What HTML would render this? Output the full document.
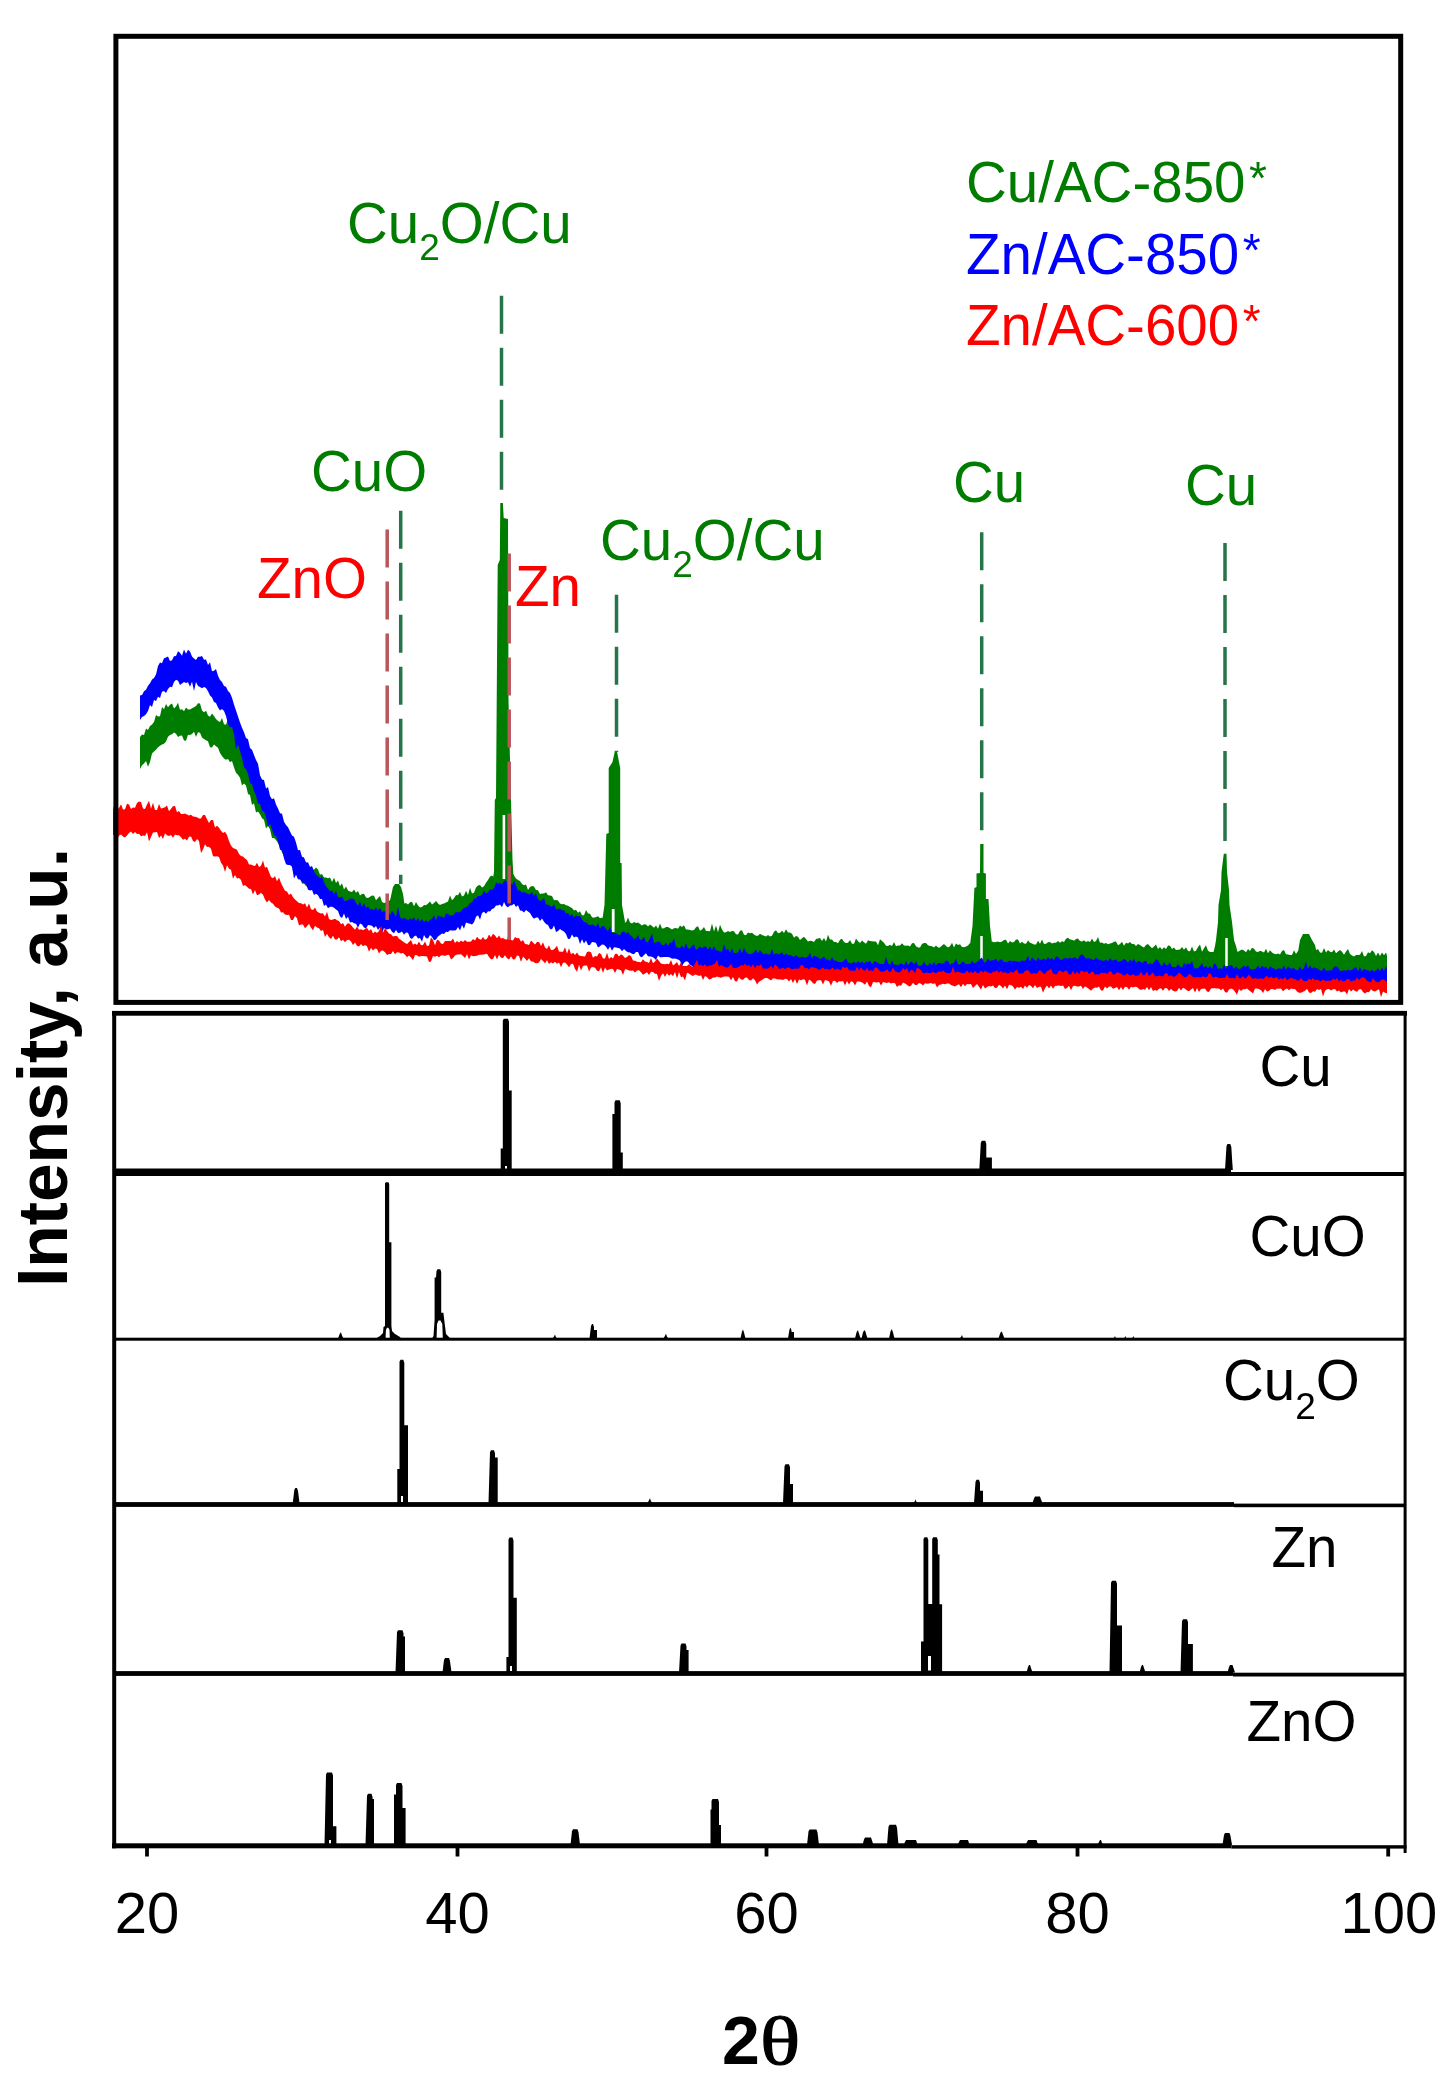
<!DOCTYPE html><html><head><meta charset="utf-8"><style>html,body{margin:0;padding:0;background:#fff;}svg{display:block;filter:blur(0.45px);}</style></head><body>
<svg width="1450" height="2091" viewBox="0 0 1450 2091">
<rect width="1450" height="2091" fill="#fff"/>
<polygon fill="#007c00" points="140.0,737.1 142.0,734.4 144.0,734.9 146.0,728.5 148.0,729.9 150.0,725.9 152.0,724.6 154.0,722.1 156.0,715.0 158.0,716.6 160.0,716.3 162.0,707.0 164.0,709.3 166.0,704.1 168.0,707.2 170.0,704.8 172.0,703.6 174.0,708.4 176.0,706.5 178.0,702.8 180.0,709.8 182.0,709.3 184.0,711.3 186.0,707.5 188.0,709.4 190.0,709.6 192.0,708.3 194.0,707.3 196.0,705.9 198.0,703.2 200.0,703.6 202.0,710.4 204.0,712.2 206.0,710.7 208.0,715.5 210.0,716.8 212.0,713.5 214.0,716.0 216.0,719.1 218.0,720.9 220.0,721.9 222.0,718.0 224.0,724.3 226.0,724.8 228.0,719.1 230.0,719.3 232.0,726.5 234.0,729.5 236.0,730.3 238.0,734.5 240.0,732.5 242.0,734.2 244.0,740.9 246.0,745.5 248.0,753.9 250.0,758.2 252.0,761.6 254.0,765.1 256.0,770.5 258.0,775.9 260.0,785.5 262.0,784.2 264.0,789.6 266.0,795.5 268.0,801.5 270.0,803.0 272.0,804.5 274.0,813.4 276.0,811.7 278.0,821.4 280.0,819.1 282.0,822.5 284.0,832.4 286.0,836.3 288.0,837.0 290.0,843.0 292.0,841.7 294.0,848.7 296.0,854.6 298.0,855.5 300.0,856.0 302.0,863.4 304.0,858.8 306.0,866.0 308.0,866.6 310.0,867.6 312.0,869.4 314.0,869.8 316.0,867.4 318.0,869.5 320.0,874.7 322.0,874.1 324.0,877.5 326.0,877.6 328.0,878.2 330.0,877.4 332.0,882.0 334.0,877.7 336.0,882.9 338.0,880.5 340.0,886.2 342.0,883.2 344.0,889.4 346.0,886.5 348.0,890.5 350.0,891.6 352.0,892.0 354.0,889.6 356.0,892.8 358.0,890.9 360.0,895.5 362.0,894.1 364.0,893.8 366.0,897.5 368.0,897.9 370.0,896.7 372.0,895.5 374.0,895.7 376.0,900.3 378.0,897.9 380.0,896.1 382.0,901.9 384.0,903.0 386.0,902.6 388.0,900.7 390.0,900.6 392.0,895.1 394.0,894.6 396.0,892.5 398.0,894.6 400.0,895.9 402.0,899.2 404.0,903.7 406.0,902.9 408.0,904.6 410.0,902.3 412.0,901.7 414.0,906.3 416.0,902.1 418.0,905.5 420.0,907.5 422.0,907.1 424.0,905.1 426.0,905.3 428.0,903.6 430.0,901.5 432.0,904.6 434.0,903.0 436.0,900.9 438.0,903.6 440.0,904.9 442.0,903.9 444.0,903.4 446.0,902.5 448.0,901.6 450.0,895.5 452.0,900.3 454.0,898.3 456.0,895.0 458.0,895.3 460.0,891.8 462.0,896.5 464.0,895.5 466.0,890.7 468.0,895.0 470.0,887.7 472.0,893.5 474.0,892.7 476.0,887.5 478.0,885.4 480.0,885.0 482.0,887.4 484.0,886.3 486.0,882.7 488.0,880.0 490.0,876.4 492.0,875.5 494.0,877.6 496.0,876.4 498.0,877.1 500.0,873.6 502.0,872.7 504.0,876.1 506.0,872.5 508.0,873.4 510.0,871.5 512.0,871.9 514.0,875.5 516.0,878.6 518.0,880.1 520.0,881.1 522.0,884.0 524.0,885.2 526.0,884.6 528.0,889.9 530.0,887.0 532.0,886.1 534.0,886.4 536.0,890.1 538.0,890.3 540.0,894.0 542.0,893.5 544.0,893.5 546.0,892.3 548.0,895.3 550.0,895.4 552.0,896.1 554.0,900.2 556.0,900.1 558.0,900.5 560.0,903.5 562.0,904.3 564.0,904.1 566.0,905.2 568.0,905.7 570.0,907.1 572.0,907.9 574.0,910.6 576.0,909.8 578.0,912.7 580.0,911.3 582.0,915.2 584.0,915.2 586.0,910.0 588.0,913.6 590.0,913.8 592.0,917.2 594.0,917.7 596.0,917.1 598.0,916.2 600.0,918.2 602.0,917.4 604.0,919.2 606.0,915.4 608.0,919.3 610.0,915.5 612.0,919.8 614.0,919.9 616.0,919.8 618.0,918.0 620.0,919.2 622.0,920.3 624.0,922.0 626.0,922.5 628.0,917.4 630.0,922.4 632.0,923.5 634.0,922.0 636.0,922.9 638.0,922.5 640.0,923.9 642.0,925.4 644.0,924.3 646.0,924.6 648.0,926.4 650.0,924.6 652.0,926.1 654.0,927.8 656.0,925.4 658.0,928.7 660.0,923.5 662.0,928.4 664.0,928.2 666.0,926.9 668.0,926.9 670.0,928.3 672.0,929.4 674.0,928.3 676.0,927.9 678.0,928.8 680.0,925.5 682.0,927.1 684.0,925.3 686.0,929.4 688.0,929.4 690.0,930.0 692.0,930.6 694.0,930.0 696.0,927.3 698.0,926.3 700.0,930.7 702.0,929.6 704.0,927.1 706.0,931.0 708.0,930.9 710.0,931.2 712.0,923.4 714.0,931.6 716.0,925.6 718.0,932.3 720.0,924.7 722.0,929.5 724.0,932.5 726.0,932.3 728.0,931.0 730.0,932.1 732.0,930.9 734.0,931.3 736.0,934.2 738.0,934.5 740.0,930.7 742.0,930.3 744.0,934.8 746.0,935.2 748.0,932.5 750.0,933.3 752.0,932.8 754.0,934.4 756.0,935.7 758.0,935.7 760.0,933.8 762.0,935.1 764.0,935.8 766.0,936.5 768.0,934.9 770.0,936.5 772.0,935.7 774.0,931.8 776.0,930.2 778.0,933.2 780.0,932.8 782.0,930.7 784.0,932.9 786.0,929.3 788.0,932.4 790.0,932.6 792.0,933.8 794.0,937.8 796.0,936.0 798.0,936.7 800.0,940.1 802.0,938.3 804.0,936.7 806.0,938.9 808.0,941.5 810.0,940.7 812.0,941.1 814.0,942.0 816.0,938.9 818.0,938.5 820.0,938.0 822.0,941.1 824.0,937.9 826.0,941.6 828.0,934.8 830.0,939.5 832.0,939.5 834.0,942.0 836.0,942.1 838.0,943.2 840.0,939.8 842.0,938.7 844.0,942.0 846.0,943.1 848.0,942.7 850.0,940.1 852.0,943.8 854.0,943.7 856.0,938.5 858.0,941.2 860.0,942.9 862.0,940.4 864.0,942.2 866.0,943.7 868.0,940.3 870.0,940.9 872.0,941.2 874.0,941.4 876.0,941.6 878.0,945.3 880.0,939.3 882.0,941.1 884.0,942.7 886.0,945.8 888.0,945.9 890.0,944.8 892.0,945.9 894.0,942.0 896.0,946.2 898.0,945.5 900.0,945.6 902.0,943.3 904.0,945.6 906.0,945.8 908.0,945.6 910.0,946.6 912.0,943.3 914.0,943.1 916.0,946.3 918.0,947.4 920.0,947.5 922.0,943.9 924.0,942.9 926.0,943.1 928.0,945.2 930.0,946.0 932.0,946.2 934.0,947.4 936.0,945.6 938.0,947.4 940.0,947.5 942.0,945.4 944.0,943.9 946.0,945.9 948.0,947.5 950.0,946.3 952.0,942.8 954.0,947.5 956.0,943.5 958.0,945.0 960.0,944.2 962.0,947.1 964.0,947.3 966.0,946.6 968.0,945.4 970.0,943.1 972.0,946.5 974.0,945.6 976.0,943.6 978.0,945.3 980.0,944.5 982.0,944.5 984.0,943.1 986.0,940.1 988.0,940.0 990.0,942.8 992.0,941.6 994.0,942.3 996.0,942.0 998.0,941.6 1000.0,942.2 1002.0,941.5 1004.0,939.9 1006.0,939.7 1008.0,943.5 1010.0,941.1 1012.0,942.4 1014.0,941.9 1016.0,939.5 1018.0,939.4 1020.0,943.5 1022.0,941.7 1024.0,943.5 1026.0,943.7 1028.0,940.4 1030.0,942.7 1032.0,943.5 1034.0,944.4 1036.0,944.5 1038.0,940.8 1040.0,943.7 1042.0,939.4 1044.0,944.0 1046.0,943.7 1048.0,942.2 1050.0,942.0 1052.0,943.4 1054.0,942.8 1056.0,942.7 1058.0,941.1 1060.0,942.7 1062.0,941.2 1064.0,942.0 1066.0,938.8 1068.0,937.8 1070.0,939.6 1072.0,939.7 1074.0,940.7 1076.0,939.1 1078.0,938.4 1080.0,941.1 1082.0,941.4 1084.0,940.2 1086.0,942.0 1088.0,940.9 1090.0,942.0 1092.0,938.6 1094.0,941.9 1096.0,941.1 1098.0,936.9 1100.0,942.7 1102.0,942.6 1104.0,943.8 1106.0,943.0 1108.0,944.2 1110.0,943.6 1112.0,942.9 1114.0,941.7 1116.0,941.5 1118.0,945.2 1120.0,944.1 1122.0,941.8 1124.0,945.7 1126.0,942.8 1128.0,943.5 1130.0,941.9 1132.0,944.0 1134.0,944.1 1136.0,946.0 1138.0,943.9 1140.0,944.9 1142.0,946.4 1144.0,947.5 1146.0,945.0 1148.0,943.9 1150.0,946.3 1152.0,948.2 1154.0,946.6 1156.0,944.5 1158.0,948.9 1160.0,946.9 1162.0,949.5 1164.0,947.2 1166.0,949.0 1168.0,945.6 1170.0,945.8 1172.0,948.9 1174.0,947.6 1176.0,950.1 1178.0,949.7 1180.0,949.4 1182.0,947.1 1184.0,949.7 1186.0,947.2 1188.0,951.1 1190.0,951.2 1192.0,946.6 1194.0,951.4 1196.0,950.7 1198.0,946.9 1200.0,944.6 1202.0,951.8 1204.0,948.3 1206.0,945.3 1208.0,950.8 1210.0,951.9 1212.0,952.1 1214.0,952.1 1216.0,951.3 1218.0,950.8 1220.0,950.7 1222.0,951.1 1224.0,950.5 1226.0,952.1 1228.0,952.1 1230.0,951.7 1232.0,951.4 1234.0,950.3 1236.0,951.7 1238.0,951.8 1240.0,950.5 1242.0,949.4 1244.0,950.4 1246.0,952.2 1248.0,949.0 1250.0,951.0 1252.0,947.8 1254.0,948.7 1256.0,951.5 1258.0,951.9 1260.0,950.8 1262.0,951.5 1264.0,952.4 1266.0,948.8 1268.0,953.2 1270.0,950.2 1272.0,952.4 1274.0,953.7 1276.0,954.2 1278.0,953.4 1280.0,954.4 1282.0,951.1 1284.0,950.0 1286.0,954.2 1288.0,954.6 1290.0,955.0 1292.0,955.1 1294.0,950.2 1296.0,954.1 1298.0,951.0 1300.0,950.7 1302.0,954.2 1304.0,953.5 1306.0,953.1 1308.0,951.9 1310.0,953.2 1312.0,953.1 1314.0,953.3 1316.0,950.2 1318.0,949.0 1320.0,952.5 1322.0,952.7 1324.0,948.0 1326.0,952.4 1328.0,950.1 1330.0,951.8 1332.0,952.3 1334.0,949.6 1336.0,953.2 1338.0,951.6 1340.0,949.9 1342.0,951.8 1344.0,954.8 1346.0,951.5 1348.0,949.1 1350.0,954.0 1352.0,955.4 1354.0,956.6 1356.0,955.1 1358.0,955.1 1360.0,954.7 1362.0,950.9 1364.0,956.4 1366.0,956.0 1368.0,952.3 1370.0,953.3 1372.0,950.3 1374.0,952.1 1376.0,956.1 1378.0,952.4 1380.0,955.9 1382.0,952.5 1384.0,955.2 1386.0,952.6 1387.0,955.8 1387.0,975.0 1386.0,977.8 1384.0,977.8 1382.0,974.1 1380.0,975.1 1378.0,975.3 1376.0,974.3 1374.0,974.0 1372.0,980.8 1370.0,978.4 1368.0,975.7 1366.0,977.4 1364.0,973.8 1362.0,973.7 1360.0,977.6 1358.0,973.8 1356.0,973.6 1354.0,973.8 1352.0,976.6 1350.0,974.0 1348.0,973.7 1346.0,976.9 1344.0,973.6 1342.0,973.5 1340.0,973.8 1338.0,973.8 1336.0,975.0 1334.0,973.4 1332.0,974.6 1330.0,976.4 1328.0,977.0 1326.0,976.2 1324.0,974.2 1322.0,974.7 1320.0,976.1 1318.0,975.8 1316.0,981.8 1314.0,975.8 1312.0,974.6 1310.0,974.6 1308.0,977.1 1306.0,974.2 1304.0,974.7 1302.0,973.0 1300.0,975.0 1298.0,972.7 1296.0,972.6 1294.0,976.4 1292.0,973.0 1290.0,974.7 1288.0,974.7 1286.0,976.0 1284.0,975.4 1282.0,973.0 1280.0,974.3 1278.0,975.4 1276.0,974.0 1274.0,975.7 1272.0,972.5 1270.0,972.2 1268.0,975.1 1266.0,976.5 1264.0,973.8 1262.0,974.0 1260.0,973.5 1258.0,972.0 1256.0,974.8 1254.0,973.3 1252.0,975.3 1250.0,972.3 1248.0,972.1 1246.0,971.9 1244.0,972.8 1242.0,973.8 1240.0,971.8 1238.0,971.8 1236.0,976.1 1234.0,972.5 1232.0,971.5 1230.0,973.3 1228.0,972.7 1226.0,975.4 1224.0,975.0 1222.0,973.9 1220.0,972.1 1218.0,973.5 1216.0,972.3 1214.0,971.2 1212.0,971.3 1210.0,973.1 1208.0,972.7 1206.0,972.6 1204.0,973.2 1202.0,971.7 1200.0,972.3 1198.0,970.9 1196.0,971.2 1194.0,971.1 1192.0,971.7 1190.0,971.1 1188.0,973.3 1186.0,975.4 1184.0,973.8 1182.0,970.6 1180.0,970.0 1178.0,973.9 1176.0,969.9 1174.0,972.0 1172.0,969.6 1170.0,969.5 1168.0,973.4 1166.0,970.4 1164.0,973.4 1162.0,969.4 1160.0,968.8 1158.0,968.2 1156.0,969.7 1154.0,967.9 1152.0,967.8 1150.0,968.2 1148.0,967.7 1146.0,970.9 1144.0,967.0 1142.0,967.3 1140.0,966.9 1138.0,970.5 1136.0,967.4 1134.0,965.9 1132.0,966.0 1130.0,965.8 1128.0,965.2 1126.0,965.2 1124.0,969.4 1122.0,967.4 1120.0,964.7 1118.0,965.5 1116.0,965.3 1114.0,964.2 1112.0,964.2 1110.0,967.9 1108.0,964.0 1106.0,963.8 1104.0,966.0 1102.0,966.6 1100.0,965.3 1098.0,963.2 1096.0,967.3 1094.0,963.8 1092.0,964.5 1090.0,967.3 1088.0,967.1 1086.0,967.2 1084.0,966.7 1082.0,963.0 1080.0,962.0 1078.0,963.0 1076.0,967.2 1074.0,962.2 1072.0,966.3 1070.0,962.3 1068.0,962.7 1066.0,963.2 1064.0,963.3 1062.0,964.4 1060.0,963.3 1058.0,962.8 1056.0,964.0 1054.0,963.4 1052.0,967.8 1050.0,964.2 1048.0,967.9 1046.0,963.2 1044.0,963.3 1042.0,963.3 1040.0,965.0 1038.0,963.5 1036.0,964.2 1034.0,963.8 1032.0,963.7 1030.0,964.8 1028.0,965.2 1026.0,965.1 1024.0,967.7 1022.0,964.0 1020.0,970.6 1018.0,964.3 1016.0,964.2 1014.0,966.4 1012.0,968.0 1010.0,964.6 1008.0,964.6 1006.0,968.6 1004.0,965.0 1002.0,964.9 1000.0,966.6 998.0,968.4 996.0,964.9 994.0,965.9 992.0,969.1 990.0,965.1 988.0,968.9 986.0,966.0 984.0,969.1 982.0,965.9 980.0,966.0 978.0,970.2 976.0,966.0 974.0,967.8 972.0,972.7 970.0,966.4 968.0,969.3 966.0,969.9 964.0,970.4 962.0,968.2 960.0,966.8 958.0,974.5 956.0,973.8 954.0,968.3 952.0,967.4 950.0,970.8 948.0,967.7 946.0,967.7 944.0,968.6 942.0,967.4 940.0,969.9 938.0,972.3 936.0,967.9 934.0,971.9 932.0,968.8 930.0,968.5 928.0,968.1 926.0,969.8 924.0,970.1 922.0,968.3 920.0,968.7 918.0,970.8 916.0,970.0 914.0,970.3 912.0,968.2 910.0,972.1 908.0,969.3 906.0,968.8 904.0,969.9 902.0,969.2 900.0,969.9 898.0,969.9 896.0,969.4 894.0,970.4 892.0,967.5 890.0,968.0 888.0,968.6 886.0,970.0 884.0,971.8 882.0,969.6 880.0,967.2 878.0,967.1 876.0,967.8 874.0,966.9 872.0,969.5 870.0,970.3 868.0,970.0 866.0,969.3 864.0,967.0 862.0,966.9 860.0,968.3 858.0,966.6 856.0,967.8 854.0,967.1 852.0,969.5 850.0,968.6 848.0,967.2 846.0,966.5 844.0,964.8 842.0,967.6 840.0,967.4 838.0,965.9 836.0,964.9 834.0,968.0 832.0,965.6 830.0,964.2 828.0,963.6 826.0,966.4 824.0,965.7 822.0,962.8 820.0,964.1 818.0,964.4 816.0,963.4 814.0,966.2 812.0,962.0 810.0,964.9 808.0,963.2 806.0,961.7 804.0,961.1 802.0,961.3 800.0,960.5 798.0,962.1 796.0,964.4 794.0,959.8 792.0,961.3 790.0,959.6 788.0,959.8 786.0,959.6 784.0,959.5 782.0,958.7 780.0,961.1 778.0,960.1 776.0,959.6 774.0,959.2 772.0,957.7 770.0,958.0 768.0,959.9 766.0,958.8 764.0,957.3 762.0,957.8 760.0,957.4 758.0,957.6 756.0,956.6 754.0,958.5 752.0,956.5 750.0,958.4 748.0,960.4 746.0,957.7 744.0,958.8 742.0,959.8 740.0,962.3 738.0,956.4 736.0,960.0 734.0,957.5 732.0,955.3 730.0,959.3 728.0,955.1 726.0,955.7 724.0,958.9 722.0,954.3 720.0,958.5 718.0,955.6 716.0,954.7 714.0,956.3 712.0,955.8 710.0,956.4 708.0,952.5 706.0,955.3 704.0,954.1 702.0,952.6 700.0,951.8 698.0,958.0 696.0,953.1 694.0,952.7 692.0,956.2 690.0,953.3 688.0,951.6 686.0,955.1 684.0,950.2 682.0,949.7 680.0,955.6 678.0,951.5 676.0,949.9 674.0,950.0 672.0,949.4 670.0,952.3 668.0,948.8 666.0,951.3 664.0,950.3 662.0,947.7 660.0,948.3 658.0,945.5 656.0,945.2 654.0,950.8 652.0,944.5 650.0,950.1 648.0,946.2 646.0,950.2 644.0,945.6 642.0,942.3 640.0,942.3 638.0,945.1 636.0,940.6 634.0,940.2 632.0,940.3 630.0,939.4 628.0,940.1 626.0,938.1 624.0,937.7 622.0,937.9 620.0,941.4 618.0,942.2 616.0,939.8 614.0,939.0 612.0,938.6 610.0,933.0 608.0,935.0 606.0,935.4 604.0,931.4 602.0,931.4 600.0,935.1 598.0,935.0 596.0,931.5 594.0,928.1 592.0,927.1 590.0,927.9 588.0,926.5 586.0,924.8 584.0,927.9 582.0,925.9 580.0,922.8 578.0,921.7 576.0,924.4 574.0,919.6 572.0,923.9 570.0,918.9 568.0,916.9 566.0,919.6 564.0,916.8 562.0,918.8 560.0,916.2 558.0,912.4 556.0,912.5 554.0,913.8 552.0,913.2 550.0,909.8 548.0,911.4 546.0,908.7 544.0,908.2 542.0,903.4 540.0,902.2 538.0,904.2 536.0,901.8 534.0,900.7 532.0,900.5 530.0,900.1 528.0,897.8 526.0,900.4 524.0,899.3 522.0,893.9 520.0,894.0 518.0,892.1 516.0,894.3 514.0,889.2 512.0,888.6 510.0,889.9 508.0,887.1 506.0,890.5 504.0,887.4 502.0,890.5 500.0,887.1 498.0,894.7 496.0,895.6 494.0,891.3 492.0,892.2 490.0,898.8 488.0,893.6 486.0,897.5 484.0,895.8 482.0,898.4 480.0,900.1 478.0,901.9 476.0,903.5 474.0,904.8 472.0,904.3 470.0,910.4 468.0,907.8 466.0,908.4 464.0,914.6 462.0,912.3 460.0,912.9 458.0,914.5 456.0,916.0 454.0,916.5 452.0,919.5 450.0,919.8 448.0,918.5 446.0,919.4 444.0,920.8 442.0,923.3 440.0,923.7 438.0,921.4 436.0,922.6 434.0,922.1 432.0,922.9 430.0,931.3 428.0,927.6 426.0,923.7 424.0,926.2 422.0,924.5 420.0,922.8 418.0,922.8 416.0,925.2 414.0,926.9 412.0,923.2 410.0,923.5 408.0,922.2 406.0,925.4 404.0,922.9 402.0,922.3 400.0,924.1 398.0,919.5 396.0,923.2 394.0,923.2 392.0,917.9 390.0,920.7 388.0,919.4 386.0,918.6 384.0,915.4 382.0,915.2 380.0,913.2 378.0,914.4 376.0,912.1 374.0,915.0 372.0,916.6 370.0,910.7 368.0,910.2 366.0,911.5 364.0,911.9 362.0,908.9 360.0,912.3 358.0,907.8 356.0,911.2 354.0,909.7 352.0,909.9 350.0,910.0 348.0,904.5 346.0,901.4 344.0,900.5 342.0,904.4 340.0,900.9 338.0,896.8 336.0,900.2 334.0,896.3 332.0,893.3 330.0,891.2 328.0,893.1 326.0,896.2 324.0,889.3 322.0,888.2 320.0,887.5 318.0,888.3 316.0,890.8 314.0,888.3 312.0,884.1 310.0,888.4 308.0,887.2 306.0,886.0 304.0,883.5 302.0,883.8 300.0,876.4 298.0,874.5 296.0,873.3 294.0,873.9 292.0,866.3 290.0,863.7 288.0,863.1 286.0,858.0 284.0,856.0 282.0,852.4 280.0,846.8 278.0,843.1 276.0,840.0 274.0,837.9 272.0,838.0 270.0,829.2 268.0,826.1 266.0,828.4 264.0,819.8 262.0,818.2 260.0,814.2 258.0,811.6 256.0,812.4 254.0,803.2 252.0,805.1 250.0,795.0 248.0,793.9 246.0,785.4 244.0,783.4 242.0,785.4 240.0,777.7 238.0,774.7 236.0,772.8 234.0,767.6 232.0,761.1 230.0,762.2 228.0,758.9 226.0,759.8 224.0,758.6 222.0,755.9 220.0,752.9 218.0,747.7 216.0,746.2 214.0,744.4 212.0,747.5 210.0,747.2 208.0,741.2 206.0,740.3 204.0,738.9 202.0,737.6 200.0,732.8 198.0,732.3 196.0,737.0 194.0,731.8 192.0,733.9 190.0,735.1 188.0,734.8 186.0,740.8 184.0,740.4 182.0,735.5 180.0,735.7 178.0,737.0 176.0,733.7 174.0,732.5 172.0,734.3 170.0,735.0 168.0,736.7 166.0,741.4 164.0,743.7 162.0,744.4 160.0,745.8 158.0,747.2 156.0,749.7 154.0,751.6 152.0,753.4 150.0,761.9 148.0,766.7 146.0,761.0 144.0,763.6 142.0,765.2 140.0,768.9"/>
<polygon fill="#007c00" points="389.0,908.0 391.0,896.0 393.0,887.0 395.0,884.0 399.0,884.0 401.0,887.0 403.0,894.0 405.0,908.0"/>
<polygon fill="#007c00" points="492.0,884.0 494.0,872.0 494.8,800.0 496.0,798.0 497.7,565.0 499.8,560.0 500.3,503.0 502.9,503.0 503.7,518.0 508.0,519.0 508.5,700.0 510.0,760.0 511.5,820.0 512.5,860.0 514.0,884.0"/>
<polygon fill="#007c00" points="602.0,922.0 604.5,905.0 606.3,834.0 608.7,833.0 608.7,768.0 612.5,762.0 614.8,751.5 617.0,751.5 619.0,762.0 620.2,768.0 620.2,863.0 621.6,863.0 622.0,905.0 625.0,922.0"/>
<polygon fill="#007c00" points="969.0,952.0 972.5,926.0 974.4,888.0 976.5,887.0 976.5,873.6 980.0,873.0 980.2,844.0 983.5,844.0 983.5,873.0 985.9,873.6 985.9,899.0 988.5,899.0 990.0,926.0 993.0,952.0"/>
<polygon fill="#007c00" points="1212.0,958.0 1215.0,946.0 1216.0,940.0 1218.0,922.0 1218.5,905.0 1221.0,890.0 1221.5,872.0 1223.5,856.0 1223.8,853.7 1226.5,853.7 1227.0,872.0 1229.0,890.0 1229.5,905.0 1232.0,922.0 1234.0,940.0 1236.0,946.0 1239.0,958.0"/>
<polygon fill="#007c00" points="1297.0,958.0 1300.0,940.0 1303.0,934.0 1309.0,934.0 1312.0,940.0 1315.0,945.0 1318.0,958.0"/>
<line x1="503.9" y1="815.0" x2="503.9" y2="879.0" stroke="#fff" stroke-width="2.6"/>
<line x1="613.2" y1="909.0" x2="613.2" y2="932.0" stroke="#fff" stroke-width="2.8"/>
<line x1="981.5" y1="936.0" x2="981.5" y2="961.0" stroke="#fff" stroke-width="2.5"/>
<line x1="1226.5" y1="938.0" x2="1226.5" y2="966.0" stroke="#fff" stroke-width="2.5"/>
<polygon fill="#0000ff" points="140.0,695.4 142.0,695.1 144.0,691.3 146.0,689.7 148.0,685.7 150.0,683.2 152.0,679.6 154.0,678.0 156.0,674.6 158.0,665.9 160.0,662.4 162.0,663.2 164.0,658.3 166.0,657.6 168.0,656.4 170.0,660.9 172.0,660.3 174.0,656.2 176.0,656.1 178.0,651.2 180.0,652.8 182.0,655.7 184.0,649.6 186.0,653.8 188.0,649.8 190.0,651.4 192.0,656.6 194.0,658.4 196.0,660.1 198.0,656.7 200.0,656.7 202.0,655.9 204.0,659.7 206.0,659.4 208.0,665.0 210.0,662.2 212.0,671.3 214.0,670.8 216.0,668.9 218.0,675.8 220.0,680.1 222.0,682.1 224.0,686.0 226.0,686.8 228.0,691.1 230.0,692.9 232.0,697.7 234.0,704.4 236.0,710.4 238.0,716.6 240.0,722.4 242.0,727.8 244.0,732.2 246.0,737.9 248.0,739.2 250.0,748.1 252.0,749.8 254.0,755.0 256.0,759.9 258.0,763.7 260.0,775.2 262.0,779.4 264.0,780.0 266.0,788.5 268.0,787.0 270.0,796.1 272.0,799.3 274.0,798.2 276.0,804.6 278.0,808.4 280.0,813.2 282.0,813.7 284.0,821.7 286.0,824.9 288.0,827.2 290.0,831.6 292.0,835.5 294.0,836.8 296.0,842.6 298.0,850.3 300.0,850.1 302.0,856.7 304.0,857.4 306.0,862.4 308.0,862.2 310.0,867.1 312.0,866.1 314.0,871.2 316.0,874.5 318.0,876.3 320.0,878.2 322.0,876.4 324.0,882.3 326.0,886.3 328.0,888.5 330.0,891.1 332.0,890.6 334.0,894.2 336.0,891.1 338.0,897.0 340.0,897.6 342.0,896.6 344.0,900.3 346.0,901.0 348.0,900.3 350.0,898.7 352.0,898.6 354.0,899.3 356.0,902.9 358.0,905.7 360.0,901.6 362.0,907.1 364.0,903.0 366.0,908.0 368.0,906.5 370.0,909.5 372.0,909.0 374.0,910.3 376.0,907.6 378.0,910.7 380.0,908.0 382.0,912.0 384.0,911.1 386.0,911.9 388.0,910.3 390.0,915.2 392.0,910.5 394.0,913.5 396.0,917.0 398.0,906.4 400.0,917.0 402.0,919.0 404.0,918.0 406.0,918.8 408.0,920.4 410.0,918.6 412.0,919.6 414.0,917.3 416.0,921.0 418.0,917.9 420.0,921.5 422.0,919.1 424.0,922.1 426.0,920.2 428.0,922.3 430.0,919.7 432.0,919.0 434.0,915.3 436.0,920.4 438.0,915.3 440.0,916.7 442.0,916.4 444.0,918.3 446.0,913.4 448.0,913.9 450.0,915.4 452.0,915.6 454.0,914.7 456.0,911.7 458.0,912.5 460.0,912.1 462.0,910.0 464.0,907.9 466.0,907.5 468.0,906.1 470.0,903.1 472.0,902.5 474.0,898.6 476.0,898.4 478.0,895.9 480.0,896.0 482.0,895.1 484.0,890.7 486.0,893.6 488.0,892.4 490.0,889.2 492.0,890.0 494.0,888.2 496.0,882.3 498.0,883.7 500.0,883.1 502.0,884.5 504.0,881.0 506.0,880.2 508.0,885.1 510.0,880.1 512.0,885.5 514.0,880.2 516.0,885.3 518.0,890.6 520.0,890.6 522.0,892.5 524.0,891.9 526.0,892.7 528.0,894.2 530.0,894.3 532.0,891.7 534.0,896.0 536.0,893.3 538.0,899.0 540.0,901.1 542.0,900.2 544.0,898.0 546.0,904.5 548.0,904.8 550.0,905.9 552.0,906.9 554.0,904.0 556.0,909.5 558.0,909.3 560.0,908.6 562.0,910.6 564.0,910.0 566.0,913.8 568.0,912.8 570.0,916.2 572.0,913.8 574.0,917.8 576.0,915.3 578.0,916.6 580.0,915.7 582.0,919.6 584.0,922.1 586.0,922.3 588.0,924.3 590.0,925.3 592.0,924.2 594.0,925.3 596.0,926.8 598.0,923.0 600.0,928.8 602.0,925.9 604.0,925.9 606.0,928.9 608.0,931.3 610.0,926.6 612.0,932.8 614.0,933.0 616.0,933.1 618.0,934.5 620.0,935.2 622.0,932.0 624.0,931.3 626.0,933.4 628.0,932.1 630.0,934.9 632.0,936.2 634.0,939.1 636.0,938.4 638.0,934.7 640.0,940.1 642.0,939.5 644.0,936.7 646.0,941.9 648.0,942.1 650.0,938.2 652.0,933.4 654.0,943.0 656.0,942.6 658.0,941.5 660.0,941.9 662.0,945.0 664.0,945.3 666.0,942.6 668.0,946.0 670.0,942.4 672.0,942.8 674.0,938.0 676.0,947.1 678.0,947.7 680.0,947.9 682.0,945.2 684.0,948.6 686.0,943.2 688.0,948.4 690.0,948.4 692.0,945.9 694.0,944.3 696.0,949.9 698.0,948.6 700.0,946.6 702.0,948.2 704.0,946.7 706.0,946.6 708.0,949.8 710.0,946.4 712.0,950.1 714.0,946.3 716.0,950.2 718.0,950.5 720.0,951.5 722.0,951.7 724.0,944.1 726.0,950.3 728.0,948.7 730.0,952.8 732.0,948.0 734.0,953.1 736.0,953.1 738.0,952.5 740.0,947.9 742.0,953.3 744.0,947.7 746.0,951.8 748.0,953.7 750.0,953.9 752.0,953.7 754.0,952.2 756.0,949.5 758.0,953.4 760.0,950.1 762.0,952.7 764.0,954.5 766.0,953.2 768.0,954.4 770.0,954.6 772.0,948.6 774.0,955.1 776.0,953.1 778.0,954.4 780.0,953.4 782.0,952.3 784.0,955.2 786.0,953.6 788.0,954.9 790.0,955.1 792.0,955.7 794.0,957.0 796.0,955.0 798.0,957.1 800.0,957.8 802.0,956.7 804.0,957.4 806.0,957.7 808.0,956.5 810.0,952.5 812.0,958.5 814.0,955.7 816.0,956.4 818.0,957.2 820.0,959.2 822.0,958.3 824.0,956.5 826.0,959.5 828.0,959.5 830.0,961.1 832.0,957.1 834.0,960.4 836.0,960.4 838.0,961.9 840.0,962.0 842.0,962.3 844.0,960.7 846.0,958.2 848.0,962.6 850.0,963.1 852.0,963.2 854.0,961.8 856.0,963.2 858.0,960.8 860.0,963.1 862.0,961.6 864.0,963.5 866.0,961.6 868.0,962.4 870.0,960.6 872.0,964.5 874.0,961.3 876.0,961.8 878.0,963.0 880.0,964.0 882.0,964.1 884.0,964.0 886.0,956.9 888.0,963.1 890.0,965.0 892.0,960.5 894.0,964.8 896.0,964.5 898.0,965.2 900.0,963.7 902.0,963.7 904.0,965.3 906.0,961.0 908.0,965.5 910.0,962.3 912.0,961.6 914.0,964.5 916.0,961.1 918.0,965.3 920.0,965.8 922.0,965.3 924.0,961.5 926.0,965.2 928.0,965.2 930.0,962.7 932.0,965.5 934.0,961.7 936.0,965.3 938.0,963.0 940.0,963.0 942.0,963.5 944.0,962.9 946.0,960.6 948.0,960.9 950.0,964.9 952.0,963.1 954.0,963.1 956.0,958.5 958.0,964.4 960.0,964.5 962.0,962.1 964.0,962.0 966.0,964.2 968.0,964.0 970.0,963.9 972.0,960.6 974.0,963.5 976.0,962.8 978.0,961.6 980.0,959.0 982.0,957.4 984.0,962.4 986.0,962.0 988.0,958.3 990.0,961.0 992.0,960.3 994.0,960.0 996.0,958.6 998.0,961.7 1000.0,959.6 1002.0,959.5 1004.0,962.1 1006.0,962.2 1008.0,961.6 1010.0,960.6 1012.0,961.1 1014.0,960.7 1016.0,961.3 1018.0,961.8 1020.0,961.5 1022.0,960.3 1024.0,961.2 1026.0,959.7 1028.0,955.8 1030.0,961.4 1032.0,957.3 1034.0,959.2 1036.0,961.2 1038.0,957.4 1040.0,959.9 1042.0,959.4 1044.0,958.6 1046.0,959.9 1048.0,957.0 1050.0,959.3 1052.0,957.9 1054.0,960.0 1056.0,956.5 1058.0,956.8 1060.0,959.6 1062.0,959.9 1064.0,958.2 1066.0,958.1 1068.0,958.8 1070.0,957.4 1072.0,958.8 1074.0,957.3 1076.0,957.9 1078.0,959.3 1080.0,955.6 1082.0,954.2 1084.0,956.0 1086.0,958.8 1088.0,957.9 1090.0,958.5 1092.0,959.4 1094.0,960.0 1096.0,957.6 1098.0,959.3 1100.0,959.7 1102.0,960.7 1104.0,960.8 1106.0,959.5 1108.0,961.4 1110.0,957.9 1112.0,960.4 1114.0,960.2 1116.0,959.3 1118.0,962.0 1120.0,961.3 1122.0,960.4 1124.0,958.7 1126.0,960.2 1128.0,962.8 1130.0,959.5 1132.0,961.4 1134.0,958.7 1136.0,963.0 1138.0,961.1 1140.0,961.3 1142.0,963.3 1144.0,960.9 1146.0,961.0 1148.0,964.7 1150.0,963.0 1152.0,964.5 1154.0,962.5 1156.0,958.9 1158.0,960.4 1160.0,964.1 1162.0,965.9 1164.0,962.2 1166.0,965.3 1168.0,965.1 1170.0,962.5 1172.0,966.9 1174.0,966.8 1176.0,967.2 1178.0,964.1 1180.0,966.2 1182.0,967.7 1184.0,963.1 1186.0,965.0 1188.0,963.3 1190.0,964.5 1192.0,960.8 1194.0,968.2 1196.0,968.2 1198.0,968.3 1200.0,966.0 1202.0,963.3 1204.0,967.7 1206.0,965.6 1208.0,968.6 1210.0,965.8 1212.0,968.9 1214.0,963.4 1216.0,964.5 1218.0,969.0 1220.0,967.9 1222.0,969.0 1224.0,964.5 1226.0,968.7 1228.0,965.8 1230.0,965.6 1232.0,965.2 1234.0,969.0 1236.0,966.3 1238.0,968.8 1240.0,969.0 1242.0,967.2 1244.0,965.7 1246.0,967.2 1248.0,965.2 1250.0,968.9 1252.0,969.5 1254.0,969.5 1256.0,968.5 1258.0,965.5 1260.0,968.7 1262.0,965.7 1264.0,967.8 1266.0,966.7 1268.0,969.8 1270.0,966.3 1272.0,967.8 1274.0,968.6 1276.0,969.7 1278.0,968.6 1280.0,968.5 1282.0,968.9 1284.0,965.6 1286.0,969.8 1288.0,966.6 1290.0,968.2 1292.0,968.8 1294.0,968.0 1296.0,970.1 1298.0,970.3 1300.0,966.4 1302.0,970.3 1304.0,968.0 1306.0,961.3 1308.0,968.9 1310.0,965.2 1312.0,968.7 1314.0,967.3 1316.0,968.0 1318.0,968.7 1320.0,970.4 1322.0,970.7 1324.0,967.4 1326.0,970.8 1328.0,970.6 1330.0,970.6 1332.0,969.9 1334.0,967.0 1336.0,966.3 1338.0,967.6 1340.0,970.8 1342.0,970.9 1344.0,970.0 1346.0,971.1 1348.0,969.6 1350.0,970.6 1352.0,969.8 1354.0,968.2 1356.0,967.1 1358.0,971.3 1360.0,966.9 1362.0,971.4 1364.0,968.8 1366.0,969.9 1368.0,970.3 1370.0,971.5 1372.0,969.7 1374.0,971.6 1376.0,970.7 1378.0,968.2 1380.0,971.3 1382.0,967.6 1384.0,971.0 1386.0,966.1 1387.0,968.5 1387.0,984.0 1386.0,985.5 1384.0,982.7 1382.0,983.7 1380.0,982.7 1378.0,984.3 1376.0,983.6 1374.0,985.5 1372.0,982.8 1370.0,983.0 1368.0,983.0 1366.0,983.4 1364.0,982.7 1362.0,982.8 1360.0,983.1 1358.0,983.5 1356.0,982.6 1354.0,986.1 1352.0,982.6 1350.0,983.1 1348.0,986.3 1346.0,985.4 1344.0,984.4 1342.0,984.9 1340.0,982.4 1338.0,981.9 1336.0,981.8 1334.0,985.6 1332.0,983.3 1330.0,982.9 1328.0,984.0 1326.0,985.1 1324.0,981.7 1322.0,981.6 1320.0,982.2 1318.0,981.7 1316.0,985.4 1314.0,981.6 1312.0,984.5 1310.0,982.9 1308.0,983.2 1306.0,989.0 1304.0,984.2 1302.0,985.8 1300.0,987.0 1298.0,984.2 1296.0,981.8 1294.0,981.4 1292.0,984.4 1290.0,981.4 1288.0,982.3 1286.0,984.1 1284.0,984.1 1282.0,982.2 1280.0,981.0 1278.0,985.5 1276.0,980.8 1274.0,984.4 1272.0,983.4 1270.0,980.4 1268.0,985.2 1266.0,981.2 1264.0,982.9 1262.0,983.2 1260.0,983.2 1258.0,980.3 1256.0,980.4 1254.0,982.4 1252.0,982.0 1250.0,983.3 1248.0,980.2 1246.0,983.0 1244.0,980.4 1242.0,981.4 1240.0,979.2 1238.0,979.1 1236.0,979.7 1234.0,979.7 1232.0,979.0 1230.0,978.9 1228.0,980.1 1226.0,981.5 1224.0,982.0 1222.0,979.3 1220.0,978.6 1218.0,979.5 1216.0,978.5 1214.0,984.7 1212.0,982.9 1210.0,978.2 1208.0,982.8 1206.0,978.8 1204.0,982.7 1202.0,979.8 1200.0,978.1 1198.0,979.3 1196.0,977.8 1194.0,979.6 1192.0,979.1 1190.0,978.6 1188.0,977.7 1186.0,981.0 1184.0,981.9 1182.0,977.9 1180.0,980.5 1178.0,980.0 1176.0,981.5 1174.0,978.3 1172.0,980.0 1170.0,977.1 1168.0,977.7 1166.0,979.7 1164.0,978.2 1162.0,977.7 1160.0,977.4 1158.0,980.8 1156.0,977.4 1154.0,979.9 1152.0,976.7 1150.0,976.7 1148.0,977.8 1146.0,977.3 1144.0,977.7 1142.0,979.7 1140.0,977.9 1138.0,978.5 1136.0,980.1 1134.0,976.5 1132.0,976.0 1130.0,980.0 1128.0,977.5 1126.0,976.1 1124.0,976.8 1122.0,976.0 1120.0,984.3 1118.0,976.6 1116.0,980.1 1114.0,978.1 1112.0,979.3 1110.0,975.8 1108.0,976.8 1106.0,980.1 1104.0,976.1 1102.0,975.3 1100.0,977.6 1098.0,975.6 1096.0,975.6 1094.0,976.0 1092.0,977.3 1090.0,976.3 1088.0,979.2 1086.0,977.4 1084.0,976.5 1082.0,975.0 1080.0,975.1 1078.0,978.0 1076.0,976.1 1074.0,979.3 1072.0,974.8 1070.0,978.5 1068.0,978.2 1066.0,978.9 1064.0,978.0 1062.0,975.0 1060.0,979.0 1058.0,974.6 1056.0,976.7 1054.0,976.0 1052.0,975.8 1050.0,976.6 1048.0,974.6 1046.0,974.4 1044.0,977.3 1042.0,977.1 1040.0,975.3 1038.0,974.4 1036.0,981.3 1034.0,974.3 1032.0,974.8 1030.0,974.2 1028.0,974.2 1026.0,974.6 1024.0,975.0 1022.0,974.2 1020.0,977.1 1018.0,974.7 1016.0,975.1 1014.0,974.0 1012.0,975.3 1010.0,978.6 1008.0,973.9 1006.0,976.4 1004.0,979.2 1002.0,974.2 1000.0,973.8 998.0,977.0 996.0,977.6 994.0,977.7 992.0,974.7 990.0,975.4 988.0,976.3 986.0,976.0 984.0,976.4 982.0,975.3 980.0,973.7 978.0,978.4 976.0,977.7 974.0,976.9 972.0,973.7 970.0,976.4 968.0,975.9 966.0,975.2 964.0,976.8 962.0,973.8 960.0,973.7 958.0,975.8 956.0,976.8 954.0,975.6 952.0,976.4 950.0,975.1 948.0,974.8 946.0,975.2 944.0,976.5 942.0,974.5 940.0,975.0 938.0,973.7 936.0,974.0 934.0,975.4 932.0,974.5 930.0,974.2 928.0,974.8 926.0,976.4 924.0,973.7 922.0,976.8 920.0,973.7 918.0,973.8 916.0,974.1 914.0,973.7 912.0,974.2 910.0,974.0 908.0,974.1 906.0,975.2 904.0,973.5 902.0,972.9 900.0,975.6 898.0,972.8 896.0,973.0 894.0,974.7 892.0,974.6 890.0,981.0 888.0,976.2 886.0,975.5 884.0,973.2 882.0,975.0 880.0,976.8 878.0,973.5 876.0,972.3 874.0,972.2 872.0,974.0 870.0,972.3 868.0,971.8 866.0,978.6 864.0,973.3 862.0,974.0 860.0,979.7 858.0,971.8 856.0,972.6 854.0,973.6 852.0,971.1 850.0,974.2 848.0,972.7 846.0,972.7 844.0,972.7 842.0,971.0 840.0,972.6 838.0,971.8 836.0,972.7 834.0,978.7 832.0,970.8 830.0,970.8 828.0,974.0 826.0,971.0 824.0,970.7 822.0,970.3 820.0,972.8 818.0,970.6 816.0,970.3 814.0,974.8 812.0,970.2 810.0,973.6 808.0,973.7 806.0,970.8 804.0,972.0 802.0,970.1 800.0,971.7 798.0,973.2 796.0,973.3 794.0,969.7 792.0,973.0 790.0,974.2 788.0,971.8 786.0,972.3 784.0,970.8 782.0,972.7 780.0,972.0 778.0,971.0 776.0,972.7 774.0,972.2 772.0,972.2 770.0,969.6 768.0,971.1 766.0,970.2 764.0,970.9 762.0,969.0 760.0,970.8 758.0,970.9 756.0,968.8 754.0,969.2 752.0,968.7 750.0,969.8 748.0,968.7 746.0,968.9 744.0,972.4 742.0,968.7 740.0,969.8 738.0,968.6 736.0,970.4 734.0,969.9 732.0,972.0 730.0,968.4 728.0,969.9 726.0,970.7 724.0,969.5 722.0,970.8 720.0,970.0 718.0,967.9 716.0,973.0 714.0,967.6 712.0,967.8 710.0,967.3 708.0,967.2 706.0,968.4 704.0,970.5 702.0,966.6 700.0,965.6 698.0,967.6 696.0,963.8 694.0,968.1 692.0,966.1 690.0,964.8 688.0,961.8 686.0,961.3 684.0,962.8 682.0,966.1 680.0,960.8 678.0,959.5 676.0,958.8 674.0,958.4 672.0,958.8 670.0,957.4 668.0,957.0 666.0,957.0 664.0,956.9 662.0,957.2 660.0,957.3 658.0,955.4 656.0,959.9 654.0,958.1 652.0,956.8 650.0,956.5 648.0,956.2 646.0,953.3 644.0,954.9 642.0,957.3 640.0,956.5 638.0,951.9 636.0,952.0 634.0,954.3 632.0,953.8 630.0,952.6 628.0,952.2 626.0,951.0 624.0,949.1 622.0,951.2 620.0,948.6 618.0,947.9 616.0,947.6 614.0,947.2 612.0,950.7 610.0,946.4 608.0,949.8 606.0,946.7 604.0,944.8 602.0,944.5 600.0,946.3 598.0,947.5 596.0,942.9 594.0,942.3 592.0,941.9 590.0,945.1 588.0,944.9 586.0,940.5 584.0,943.6 582.0,939.2 580.0,944.1 578.0,937.4 576.0,936.4 574.0,937.6 572.0,934.6 570.0,938.8 568.0,938.9 566.0,933.9 564.0,931.4 562.0,930.4 560.0,929.1 558.0,931.0 556.0,932.0 554.0,925.5 552.0,929.3 550.0,928.9 548.0,924.9 546.0,924.1 544.0,921.7 542.0,918.6 540.0,920.9 538.0,917.6 536.0,917.5 534.0,918.8 532.0,916.6 530.0,913.1 528.0,911.6 526.0,910.1 524.0,912.5 522.0,910.7 520.0,910.6 518.0,905.2 516.0,907.0 514.0,903.8 512.0,905.3 510.0,905.6 508.0,907.2 506.0,906.1 504.0,901.9 502.0,907.3 500.0,904.6 498.0,905.4 496.0,905.4 494.0,908.2 492.0,908.9 490.0,911.6 488.0,911.2 486.0,913.7 484.0,911.8 482.0,913.1 480.0,919.7 478.0,915.3 476.0,916.7 474.0,922.2 472.0,924.4 470.0,923.8 468.0,923.2 466.0,922.4 464.0,928.8 462.0,925.0 460.0,930.4 458.0,927.0 456.0,930.2 454.0,930.6 452.0,930.5 450.0,930.3 448.0,931.9 446.0,931.7 444.0,934.0 442.0,933.5 440.0,935.1 438.0,936.6 436.0,939.5 434.0,940.2 432.0,937.0 430.0,935.1 428.0,938.6 426.0,938.2 424.0,935.0 422.0,941.8 420.0,938.1 418.0,938.4 416.0,935.5 414.0,936.6 412.0,938.9 410.0,937.8 408.0,932.8 406.0,932.4 404.0,934.7 402.0,931.6 400.0,932.8 398.0,932.9 396.0,930.0 394.0,933.2 392.0,931.7 390.0,928.5 388.0,929.3 386.0,929.5 384.0,928.0 382.0,933.1 380.0,927.4 378.0,930.1 376.0,926.1 374.0,928.0 372.0,925.8 370.0,925.2 368.0,924.9 366.0,928.6 364.0,927.6 362.0,924.5 360.0,923.6 358.0,927.8 356.0,923.7 354.0,923.2 352.0,921.9 350.0,922.6 348.0,916.7 346.0,918.9 344.0,913.5 342.0,918.1 340.0,916.5 338.0,911.1 336.0,909.4 334.0,907.8 332.0,906.7 330.0,906.8 328.0,908.2 326.0,904.6 324.0,905.9 322.0,899.1 320.0,898.9 318.0,895.2 316.0,893.8 314.0,895.0 312.0,890.0 310.0,890.6 308.0,889.8 306.0,883.8 304.0,883.3 302.0,882.0 300.0,879.4 298.0,879.3 296.0,874.8 294.0,878.6 292.0,866.8 290.0,865.0 288.0,864.9 286.0,864.3 284.0,858.4 282.0,850.3 280.0,849.8 278.0,841.6 276.0,836.1 274.0,835.2 272.0,829.2 270.0,823.8 268.0,826.5 266.0,817.0 264.0,811.8 262.0,810.8 260.0,803.8 258.0,803.8 256.0,795.6 254.0,791.2 252.0,783.9 250.0,783.3 248.0,773.7 246.0,769.2 244.0,767.3 242.0,757.8 240.0,751.0 238.0,744.5 236.0,749.6 234.0,734.3 232.0,726.9 230.0,727.5 228.0,724.0 226.0,716.1 224.0,711.1 222.0,709.0 220.0,710.5 218.0,707.6 216.0,702.9 214.0,702.0 212.0,697.6 210.0,695.6 208.0,691.3 206.0,688.1 204.0,687.0 202.0,688.2 200.0,687.0 198.0,686.1 196.0,681.9 194.0,690.9 192.0,681.8 190.0,686.7 188.0,682.2 186.0,683.0 184.0,682.0 182.0,683.5 180.0,684.9 178.0,680.7 176.0,679.8 174.0,682.1 172.0,687.3 170.0,686.7 168.0,689.0 166.0,693.0 164.0,690.9 162.0,691.8 160.0,697.9 158.0,696.7 156.0,700.9 154.0,700.1 152.0,706.9 150.0,705.1 148.0,710.9 146.0,714.2 144.0,715.9 142.0,717.0 140.0,720.1"/>
<polygon fill="#ff0000" points="113.0,809.6 115.0,801.8 117.0,809.4 119.0,808.1 121.0,804.2 123.0,809.4 125.0,809.3 127.0,803.8 129.0,804.6 131.0,808.9 133.0,807.5 135.0,807.7 137.0,802.9 139.0,801.6 141.0,802.0 143.0,808.4 145.0,808.9 147.0,804.6 149.0,800.7 151.0,808.8 153.0,802.7 155.0,809.9 157.0,810.0 159.0,803.9 161.0,808.6 163.0,808.0 165.0,807.3 167.0,805.5 169.0,811.3 171.0,808.8 173.0,806.3 175.0,805.9 177.0,812.2 179.0,810.9 181.0,813.9 183.0,814.0 185.0,813.5 187.0,814.5 189.0,815.5 191.0,814.8 193.0,816.4 195.0,816.8 197.0,817.3 199.0,818.4 201.0,818.5 203.0,815.0 205.0,815.1 207.0,819.2 209.0,823.1 211.0,820.0 213.0,819.9 215.0,827.4 217.0,825.8 219.0,827.7 221.0,830.8 223.0,833.0 225.0,831.7 227.0,835.0 229.0,840.9 231.0,845.5 233.0,848.1 235.0,848.7 237.0,849.7 239.0,854.1 241.0,856.0 243.0,856.6 245.0,858.6 247.0,860.0 249.0,864.4 251.0,864.4 253.0,865.5 255.0,865.9 257.0,862.7 259.0,866.9 261.0,865.8 263.0,860.5 265.0,867.8 267.0,866.8 269.0,872.1 271.0,877.1 273.0,878.2 275.0,876.0 277.0,881.3 279.0,877.6 281.0,883.1 283.0,887.0 285.0,890.8 287.0,891.6 289.0,894.9 291.0,893.4 293.0,897.2 295.0,899.6 297.0,901.3 299.0,903.0 301.0,903.2 303.0,904.6 305.0,903.3 307.0,907.5 309.0,903.6 311.0,909.3 313.0,909.9 315.0,907.4 317.0,911.4 319.0,912.8 321.0,913.6 323.0,913.2 325.0,916.6 327.0,911.8 329.0,918.9 331.0,920.1 333.0,919.5 335.0,918.8 337.0,920.3 339.0,921.1 341.0,924.3 343.0,923.0 345.0,926.8 347.0,923.8 349.0,923.2 351.0,925.0 353.0,927.4 355.0,929.7 357.0,926.6 359.0,929.8 361.0,929.3 363.0,930.3 365.0,928.9 367.0,927.7 369.0,931.1 371.0,929.0 373.0,933.4 375.0,931.6 377.0,933.1 379.0,931.1 381.0,925.6 383.0,932.7 385.0,928.1 387.0,931.0 389.0,933.5 391.0,934.2 393.0,936.4 395.0,936.0 397.0,936.1 399.0,938.7 401.0,940.0 403.0,941.6 405.0,942.9 407.0,943.9 409.0,942.1 411.0,939.9 413.0,944.7 415.0,943.6 417.0,945.0 419.0,941.6 421.0,945.2 423.0,945.0 425.0,941.5 427.0,946.1 429.0,945.6 431.0,937.3 433.0,940.0 435.0,945.2 437.0,939.8 439.0,940.6 441.0,943.6 443.0,944.0 445.0,941.1 447.0,940.9 449.0,941.0 451.0,941.1 453.0,938.5 455.0,943.1 457.0,941.0 459.0,942.4 461.0,940.5 463.0,942.0 465.0,939.9 467.0,941.7 469.0,941.7 471.0,941.5 473.0,939.0 475.0,940.4 477.0,936.7 479.0,938.9 481.0,939.8 483.0,937.0 485.0,939.8 487.0,938.8 489.0,934.4 491.0,937.2 493.0,933.8 495.0,935.4 497.0,938.3 499.0,935.5 501.0,938.5 503.0,938.1 505.0,939.2 507.0,939.6 509.0,934.4 511.0,940.1 513.0,940.4 515.0,936.9 517.0,938.2 519.0,938.1 521.0,941.8 523.0,939.9 525.0,944.1 527.0,944.2 529.0,945.1 531.0,940.5 533.0,942.5 535.0,944.6 537.0,942.0 539.0,942.1 541.0,946.1 543.0,942.2 545.0,947.4 547.0,949.0 549.0,945.2 551.0,950.0 553.0,950.0 555.0,948.2 557.0,945.7 559.0,951.5 561.0,951.7 563.0,951.7 565.0,947.2 567.0,953.4 569.0,948.3 571.0,954.3 573.0,952.8 575.0,954.9 577.0,952.6 579.0,955.5 581.0,956.0 583.0,956.3 585.0,956.6 587.0,952.0 589.0,951.4 591.0,952.2 593.0,957.8 595.0,956.0 597.0,956.4 599.0,952.9 601.0,954.1 603.0,958.5 605.0,958.6 607.0,952.8 609.0,958.9 611.0,956.9 613.0,958.6 615.0,954.0 617.0,953.7 619.0,956.4 621.0,954.2 623.0,955.4 625.0,958.0 627.0,956.9 629.0,955.0 631.0,956.3 633.0,960.5 635.0,960.7 637.0,961.7 639.0,961.9 641.0,962.3 643.0,959.2 645.0,961.6 647.0,962.1 649.0,963.0 651.0,958.1 653.0,963.3 655.0,961.6 657.0,958.4 659.0,961.0 661.0,963.6 663.0,963.9 665.0,964.2 667.0,963.7 669.0,964.3 671.0,960.0 673.0,965.6 675.0,964.0 677.0,962.1 679.0,966.1 681.0,962.6 683.0,965.9 685.0,966.0 687.0,966.0 689.0,964.1 691.0,965.9 693.0,966.9 695.0,963.8 697.0,959.8 699.0,965.9 701.0,964.4 703.0,966.2 705.0,964.3 707.0,966.8 709.0,965.6 711.0,965.4 713.0,964.4 715.0,963.5 717.0,959.9 719.0,966.8 721.0,965.1 723.0,966.1 725.0,966.9 727.0,967.7 729.0,966.6 731.0,963.8 733.0,967.9 735.0,967.9 737.0,967.7 739.0,966.8 741.0,965.1 743.0,965.8 745.0,963.7 747.0,966.1 749.0,964.7 751.0,967.5 753.0,964.1 755.0,968.3 757.0,965.1 759.0,965.9 761.0,964.0 763.0,968.6 765.0,968.6 767.0,968.7 769.0,968.1 771.0,965.4 773.0,968.8 775.0,964.4 777.0,965.9 779.0,968.8 781.0,968.8 783.0,967.6 785.0,969.2 787.0,967.7 789.0,967.2 791.0,968.9 793.0,969.3 795.0,968.5 797.0,968.8 799.0,968.4 801.0,964.7 803.0,965.6 805.0,968.6 807.0,967.8 809.0,969.5 811.0,966.9 813.0,967.6 815.0,967.7 817.0,968.4 819.0,970.0 821.0,968.9 823.0,967.4 825.0,969.6 827.0,968.4 829.0,970.1 831.0,968.7 833.0,967.6 835.0,970.1 837.0,968.4 839.0,969.4 841.0,970.3 843.0,966.6 845.0,968.2 847.0,966.8 849.0,970.3 851.0,970.7 853.0,970.4 855.0,970.9 857.0,966.4 859.0,970.7 861.0,967.2 863.0,969.7 865.0,970.8 867.0,968.1 869.0,971.2 871.0,969.9 873.0,971.2 875.0,967.5 877.0,967.8 879.0,970.0 881.0,971.8 883.0,971.4 885.0,971.2 887.0,969.1 889.0,972.1 891.0,971.5 893.0,967.5 895.0,971.2 897.0,972.3 899.0,972.4 901.0,971.2 903.0,968.1 905.0,970.0 907.0,968.0 909.0,972.9 911.0,969.7 913.0,970.6 915.0,972.9 917.0,967.6 919.0,968.8 921.0,969.9 923.0,973.3 925.0,973.0 927.0,972.4 929.0,972.9 931.0,972.9 933.0,971.7 935.0,973.1 937.0,972.7 939.0,971.3 941.0,972.0 943.0,970.4 945.0,972.2 947.0,973.0 949.0,973.3 951.0,972.4 953.0,966.4 955.0,973.3 957.0,971.5 959.0,972.1 961.0,972.7 963.0,973.2 965.0,973.1 967.0,970.6 969.0,973.0 971.0,971.7 973.0,973.3 975.0,971.0 977.0,972.9 979.0,973.3 981.0,970.6 983.0,972.7 985.0,970.7 987.0,972.1 989.0,972.7 991.0,973.4 993.0,971.8 995.0,971.8 997.0,970.2 999.0,972.7 1001.0,970.7 1003.0,973.1 1005.0,972.0 1007.0,973.2 1009.0,973.2 1011.0,971.6 1013.0,973.0 1015.0,971.0 1017.0,969.4 1019.0,973.7 1021.0,973.3 1023.0,973.5 1025.0,971.1 1027.0,970.3 1029.0,970.7 1031.0,973.9 1033.0,973.5 1035.0,973.2 1037.0,973.7 1039.0,970.5 1041.0,970.8 1043.0,973.3 1045.0,973.9 1047.0,971.3 1049.0,970.3 1051.0,968.5 1053.0,973.8 1055.0,974.2 1057.0,974.2 1059.0,970.5 1061.0,971.1 1063.0,972.5 1065.0,970.7 1067.0,970.7 1069.0,974.4 1071.0,974.4 1073.0,970.7 1075.0,974.2 1077.0,971.5 1079.0,974.3 1081.0,970.5 1083.0,971.4 1085.0,972.3 1087.0,970.9 1089.0,974.2 1091.0,972.3 1093.0,971.5 1095.0,974.7 1097.0,974.3 1099.0,974.7 1101.0,972.7 1103.0,973.1 1105.0,972.8 1107.0,974.0 1109.0,971.9 1111.0,970.9 1113.0,974.5 1115.0,974.3 1117.0,972.3 1119.0,972.7 1121.0,973.6 1123.0,975.2 1125.0,975.4 1127.0,973.2 1129.0,975.2 1131.0,975.5 1133.0,973.9 1135.0,975.7 1137.0,975.8 1139.0,975.2 1141.0,971.7 1143.0,975.6 1145.0,974.9 1147.0,971.5 1149.0,976.2 1151.0,974.3 1153.0,972.2 1155.0,976.2 1157.0,976.3 1159.0,975.5 1161.0,976.0 1163.0,976.4 1165.0,973.4 1167.0,973.0 1169.0,976.5 1171.0,974.9 1173.0,976.7 1175.0,976.6 1177.0,975.1 1179.0,972.4 1181.0,974.0 1183.0,976.3 1185.0,977.2 1187.0,976.8 1189.0,973.8 1191.0,975.1 1193.0,976.9 1195.0,977.4 1197.0,976.9 1199.0,977.2 1201.0,977.5 1203.0,976.3 1205.0,977.3 1207.0,976.9 1209.0,973.0 1211.0,974.3 1213.0,977.9 1215.0,976.7 1217.0,977.1 1219.0,978.1 1221.0,977.9 1223.0,977.7 1225.0,978.1 1227.0,974.0 1229.0,978.0 1231.0,978.3 1233.0,977.7 1235.0,978.7 1237.0,974.3 1239.0,977.9 1241.0,978.6 1243.0,975.7 1245.0,979.0 1247.0,977.0 1249.0,974.5 1251.0,977.1 1253.0,978.9 1255.0,978.1 1257.0,978.8 1259.0,978.7 1261.0,978.3 1263.0,979.2 1265.0,977.4 1267.0,975.8 1269.0,978.3 1271.0,976.4 1273.0,978.3 1275.0,977.8 1277.0,977.0 1279.0,979.8 1281.0,977.9 1283.0,979.4 1285.0,976.9 1287.0,980.3 1289.0,979.1 1291.0,977.7 1293.0,978.7 1295.0,978.9 1297.0,980.6 1299.0,980.6 1301.0,978.0 1303.0,980.5 1305.0,980.9 1307.0,981.0 1309.0,978.4 1311.0,980.3 1313.0,977.9 1315.0,980.2 1317.0,979.5 1319.0,980.6 1321.0,981.2 1323.0,979.4 1325.0,980.8 1327.0,980.9 1329.0,980.4 1331.0,980.8 1333.0,978.4 1335.0,980.1 1337.0,977.9 1339.0,981.5 1341.0,979.8 1343.0,981.4 1345.0,980.9 1347.0,979.0 1349.0,979.0 1351.0,981.6 1353.0,980.4 1355.0,980.6 1357.0,977.5 1359.0,980.1 1361.0,978.1 1363.0,977.2 1365.0,978.3 1367.0,980.7 1369.0,981.7 1371.0,982.2 1373.0,978.1 1375.0,980.9 1377.0,981.9 1379.0,982.3 1381.0,979.9 1383.0,979.3 1385.0,980.6 1387.0,982.1 1387.0,993.3 1385.0,992.7 1383.0,991.5 1381.0,997.2 1379.0,989.3 1377.0,990.3 1375.0,991.5 1373.0,991.0 1371.0,989.2 1369.0,992.3 1367.0,992.0 1365.0,993.6 1363.0,991.9 1361.0,989.1 1359.0,989.4 1357.0,991.7 1355.0,991.1 1353.0,989.5 1351.0,991.5 1349.0,988.9 1347.0,994.5 1345.0,991.6 1343.0,991.5 1341.0,992.4 1339.0,990.6 1337.0,991.4 1335.0,988.9 1333.0,989.3 1331.0,990.5 1329.0,988.9 1327.0,989.2 1325.0,990.7 1323.0,996.5 1321.0,989.1 1319.0,990.0 1317.0,989.1 1315.0,991.8 1313.0,991.2 1311.0,993.1 1309.0,992.6 1307.0,988.7 1305.0,990.7 1303.0,991.7 1301.0,992.8 1299.0,992.8 1297.0,991.4 1295.0,989.1 1293.0,989.1 1291.0,988.6 1289.0,990.3 1287.0,988.6 1285.0,989.6 1283.0,991.2 1281.0,988.6 1279.0,988.7 1277.0,988.6 1275.0,989.9 1273.0,989.1 1271.0,988.9 1269.0,990.7 1267.0,991.4 1265.0,989.0 1263.0,993.0 1261.0,990.2 1259.0,989.0 1257.0,988.6 1255.0,988.6 1253.0,993.4 1251.0,991.7 1249.0,990.3 1247.0,988.5 1245.0,989.2 1243.0,989.3 1241.0,991.1 1239.0,989.0 1237.0,994.8 1235.0,991.7 1233.0,989.3 1231.0,988.5 1229.0,989.5 1227.0,992.7 1225.0,992.0 1223.0,988.5 1221.0,990.3 1219.0,988.5 1217.0,988.5 1215.0,988.3 1213.0,988.2 1211.0,988.5 1209.0,991.9 1207.0,991.6 1205.0,988.6 1203.0,988.7 1201.0,988.9 1199.0,991.9 1197.0,988.0 1195.0,992.5 1193.0,988.0 1191.0,989.4 1189.0,991.3 1187.0,990.6 1185.0,988.7 1183.0,987.7 1181.0,990.4 1179.0,987.7 1177.0,990.9 1175.0,991.5 1173.0,990.7 1171.0,988.7 1169.0,991.1 1167.0,988.3 1165.0,988.0 1163.0,990.7 1161.0,988.3 1159.0,988.7 1157.0,990.7 1155.0,989.9 1153.0,991.0 1151.0,987.1 1149.0,990.3 1147.0,987.0 1145.0,989.7 1143.0,988.9 1141.0,989.9 1139.0,989.1 1137.0,987.0 1135.0,986.8 1133.0,987.4 1131.0,986.7 1129.0,989.7 1127.0,987.1 1125.0,986.7 1123.0,989.9 1121.0,986.9 1119.0,990.2 1117.0,986.9 1115.0,987.9 1113.0,988.8 1111.0,986.4 1109.0,986.4 1107.0,988.4 1105.0,986.4 1103.0,990.5 1101.0,990.6 1099.0,986.4 1097.0,987.7 1095.0,987.5 1093.0,988.5 1091.0,990.7 1089.0,989.1 1087.0,987.6 1085.0,986.3 1083.0,989.1 1081.0,985.8 1079.0,986.6 1077.0,986.6 1075.0,985.8 1073.0,986.0 1071.0,990.2 1069.0,985.7 1067.0,987.9 1065.0,989.1 1063.0,985.5 1061.0,986.1 1059.0,985.5 1057.0,985.7 1055.0,986.0 1053.0,988.7 1051.0,985.6 1049.0,988.5 1047.0,985.4 1045.0,988.3 1043.0,992.7 1041.0,986.8 1039.0,986.8 1037.0,988.0 1035.0,985.1 1033.0,988.2 1031.0,985.9 1029.0,985.0 1027.0,987.8 1025.0,985.6 1023.0,989.1 1021.0,986.7 1019.0,987.8 1017.0,986.9 1015.0,989.4 1013.0,986.4 1011.0,984.9 1009.0,984.8 1007.0,989.2 1005.0,985.5 1003.0,988.5 1001.0,986.1 999.0,984.7 997.0,987.8 995.0,988.1 993.0,985.5 991.0,986.4 989.0,986.1 987.0,987.0 985.0,988.4 983.0,985.1 981.0,989.5 979.0,986.8 977.0,984.1 975.0,985.9 973.0,988.1 971.0,984.0 969.0,984.2 967.0,984.1 965.0,986.2 963.0,983.8 961.0,987.3 959.0,984.2 957.0,985.3 955.0,986.6 953.0,985.7 951.0,985.0 949.0,983.6 947.0,983.5 945.0,984.3 943.0,983.8 941.0,984.4 939.0,985.0 937.0,987.5 935.0,983.2 933.0,983.9 931.0,983.1 929.0,983.6 927.0,983.7 925.0,983.2 923.0,985.4 921.0,983.8 919.0,983.0 917.0,985.1 915.0,985.1 913.0,982.7 911.0,985.8 909.0,986.4 907.0,984.7 905.0,983.4 903.0,982.4 901.0,985.7 899.0,985.3 897.0,986.9 895.0,983.2 893.0,982.8 891.0,983.4 889.0,982.2 887.0,982.9 885.0,982.5 883.0,982.0 881.0,985.5 879.0,982.1 877.0,982.5 875.0,982.2 873.0,982.0 871.0,987.3 869.0,986.1 867.0,981.5 865.0,984.8 863.0,982.9 861.0,981.9 859.0,981.5 857.0,981.6 855.0,985.5 853.0,982.0 851.0,981.2 849.0,984.4 847.0,980.9 845.0,985.4 843.0,980.9 841.0,981.4 839.0,981.3 837.0,983.1 835.0,980.7 833.0,981.0 831.0,985.8 829.0,981.4 827.0,980.4 825.0,980.1 823.0,984.4 821.0,980.3 819.0,980.3 817.0,980.6 815.0,983.9 813.0,983.2 811.0,980.8 809.0,979.6 807.0,985.4 805.0,979.8 803.0,979.3 801.0,980.3 799.0,979.5 797.0,983.9 795.0,979.1 793.0,983.1 791.0,978.9 789.0,981.4 787.0,979.1 785.0,978.7 783.0,980.0 781.0,979.4 779.0,979.5 777.0,979.3 775.0,978.4 773.0,978.3 771.0,980.5 769.0,979.1 767.0,978.0 765.0,978.1 763.0,979.3 761.0,980.4 759.0,981.8 757.0,984.4 755.0,980.3 753.0,978.2 751.0,980.5 749.0,980.0 747.0,977.6 745.0,977.7 743.0,979.8 741.0,979.6 739.0,977.2 737.0,981.4 735.0,981.2 733.0,977.1 731.0,980.3 729.0,976.7 727.0,976.5 725.0,976.6 723.0,976.8 721.0,977.8 719.0,977.3 717.0,976.5 715.0,977.4 713.0,977.4 711.0,979.1 709.0,979.4 707.0,977.0 705.0,976.1 703.0,980.0 701.0,975.3 699.0,976.1 697.0,975.0 695.0,974.5 693.0,976.1 691.0,975.0 689.0,973.5 687.0,972.8 685.0,980.4 683.0,976.4 681.0,977.2 679.0,971.9 677.0,978.4 675.0,972.1 673.0,976.2 671.0,973.9 669.0,975.7 667.0,973.2 665.0,977.0 663.0,973.2 661.0,976.0 659.0,981.0 657.0,974.0 655.0,973.7 653.0,971.9 651.0,971.7 649.0,975.0 647.0,972.2 645.0,973.5 643.0,974.7 641.0,972.2 639.0,970.3 637.0,970.4 635.0,972.6 633.0,970.4 631.0,970.8 629.0,970.4 627.0,969.5 625.0,969.3 623.0,975.1 621.0,970.3 619.0,969.6 617.0,969.1 615.0,973.0 613.0,969.1 611.0,968.7 609.0,969.6 607.0,970.5 605.0,967.4 603.0,973.1 601.0,967.2 599.0,971.2 597.0,970.8 595.0,967.7 593.0,966.9 591.0,967.4 589.0,971.6 587.0,965.6 585.0,965.4 583.0,965.9 581.0,970.4 579.0,964.7 577.0,971.8 575.0,969.0 573.0,963.8 571.0,964.0 569.0,967.3 567.0,964.6 565.0,962.6 563.0,962.7 561.0,967.3 559.0,962.4 557.0,963.7 555.0,961.7 553.0,963.6 551.0,962.2 549.0,964.0 547.0,960.2 545.0,963.3 543.0,960.9 541.0,959.0 539.0,962.6 537.0,963.3 535.0,963.1 533.0,961.5 531.0,961.5 529.0,958.3 527.0,960.9 525.0,958.5 523.0,956.6 521.0,962.0 519.0,956.1 517.0,955.6 515.0,959.3 513.0,959.5 511.0,956.2 509.0,959.5 507.0,958.3 505.0,955.2 503.0,957.9 501.0,957.8 499.0,954.8 497.0,959.5 495.0,955.1 493.0,958.9 491.0,959.2 489.0,957.0 487.0,953.7 485.0,954.3 483.0,954.5 481.0,954.8 479.0,954.8 477.0,955.7 475.0,955.9 473.0,956.3 471.0,955.2 469.0,959.6 467.0,954.1 465.0,957.9 463.0,956.1 461.0,954.3 459.0,954.4 457.0,954.5 455.0,955.5 453.0,957.9 451.0,959.4 449.0,954.8 447.0,954.9 445.0,955.9 443.0,955.3 441.0,955.6 439.0,957.3 437.0,955.8 435.0,956.7 433.0,955.9 431.0,961.4 429.0,962.0 427.0,956.4 425.0,956.2 423.0,956.0 421.0,956.1 419.0,956.7 417.0,955.2 415.0,955.1 413.0,960.3 411.0,957.4 409.0,955.6 407.0,957.3 405.0,954.8 403.0,953.0 401.0,953.5 399.0,952.4 397.0,952.3 395.0,954.3 393.0,951.0 391.0,954.0 389.0,954.1 387.0,954.9 385.0,952.2 383.0,950.6 381.0,950.8 379.0,953.6 377.0,949.1 375.0,948.5 373.0,950.4 371.0,947.8 369.0,951.8 367.0,946.3 365.0,944.9 363.0,946.3 361.0,943.9 359.0,946.5 357.0,945.8 355.0,942.5 353.0,945.1 351.0,941.6 349.0,939.8 347.0,940.1 345.0,942.3 343.0,939.7 341.0,941.3 339.0,937.3 337.0,939.4 335.0,939.4 333.0,935.7 331.0,939.1 329.0,937.3 327.0,933.7 325.0,936.9 323.0,930.0 321.0,930.9 319.0,928.2 317.0,927.5 315.0,925.8 313.0,930.2 311.0,927.7 309.0,923.8 307.0,926.2 305.0,928.2 303.0,924.6 301.0,924.6 299.0,925.4 297.0,918.2 295.0,916.1 293.0,920.0 291.0,920.0 289.0,914.8 287.0,915.1 285.0,914.4 283.0,912.3 281.0,912.4 279.0,908.6 277.0,907.7 275.0,906.4 273.0,903.8 271.0,902.5 269.0,900.0 267.0,902.6 265.0,899.5 263.0,894.7 261.0,892.8 259.0,894.5 257.0,895.2 255.0,889.9 253.0,894.5 251.0,889.1 249.0,888.8 247.0,886.8 245.0,885.0 243.0,886.1 241.0,879.9 239.0,878.1 237.0,878.5 235.0,874.9 233.0,878.8 231.0,869.8 229.0,868.8 227.0,865.3 225.0,872.0 223.0,865.4 221.0,862.7 219.0,857.1 217.0,856.3 215.0,856.4 213.0,856.2 211.0,848.7 209.0,846.8 207.0,847.1 205.0,844.2 203.0,849.5 201.0,853.1 199.0,840.9 197.0,838.9 195.0,842.1 193.0,841.0 191.0,836.5 189.0,836.7 187.0,840.6 185.0,838.8 183.0,839.7 181.0,837.2 179.0,835.2 177.0,835.3 175.0,834.5 173.0,837.7 171.0,835.1 169.0,836.0 167.0,835.3 165.0,833.3 163.0,839.0 161.0,835.4 159.0,838.0 157.0,832.1 155.0,832.2 153.0,832.4 151.0,837.0 149.0,841.5 147.0,832.3 145.0,836.0 143.0,835.6 141.0,836.3 139.0,833.7 137.0,834.1 135.0,831.9 133.0,834.0 131.0,831.6 129.0,833.1 127.0,835.5 125.0,837.4 123.0,836.4 121.0,834.5 119.0,835.7 117.0,840.0 115.0,833.3 113.0,835.6"/>
<line x1="400.7" y1="510.8" x2="400.7" y2="884.0" stroke="#26744a" stroke-width="3.5" stroke-dasharray="38 14"/>
<line x1="501.5" y1="295.8" x2="501.5" y2="503.0" stroke="#26744a" stroke-width="3.5" stroke-dasharray="38 14"/>
<line x1="616.5" y1="594.8" x2="616.5" y2="752.0" stroke="#26744a" stroke-width="3.5" stroke-dasharray="38 14"/>
<line x1="981.7" y1="532.2" x2="981.7" y2="844.0" stroke="#26744a" stroke-width="3.5" stroke-dasharray="38 14"/>
<line x1="1225.0" y1="543.1" x2="1225.0" y2="854.0" stroke="#26744a" stroke-width="3.5" stroke-dasharray="38 14"/>
<line x1="387.2" y1="529.4" x2="387.2" y2="920.0" stroke="#b8565a" stroke-width="3.5" stroke-dasharray="38 14"/>
<line x1="509.2" y1="553.4" x2="509.2" y2="940.0" stroke="#b8565a" stroke-width="3.5" stroke-dasharray="38 14"/>
<rect x="115.9" y="36.3" width="1284.8" height="966.1" fill="none" stroke="#000" stroke-width="5"/>
<text x="966.0" y="202.0" font-family="Liberation Sans" font-size="56.5" fill="#007c00" text-anchor="start" >Cu/AC-850<tspan font-size="46" dx="3.5" dy="-8">*</tspan></text>
<text x="966.0" y="274.0" font-family="Liberation Sans" font-size="56.5" fill="#0000ff" text-anchor="start" >Zn/AC-850<tspan font-size="46" dx="3.5" dy="-8">*</tspan></text>
<text x="966.0" y="345.0" font-family="Liberation Sans" font-size="56.5" fill="#ff0000" text-anchor="start" >Zn/AC-600<tspan font-size="46" dx="3.5" dy="-8">*</tspan></text>
<text x="347.0" y="243.0" font-family="Liberation Sans" font-size="56.5" fill="#007c00">Cu<tspan font-size="37" dy="17">2</tspan><tspan dy="-17">O/Cu</tspan></text>
<text x="600.0" y="559.5" font-family="Liberation Sans" font-size="56.5" fill="#007c00">Cu<tspan font-size="37" dy="17">2</tspan><tspan dy="-17">O/Cu</tspan></text>
<text x="311.0" y="491.0" font-family="Liberation Sans" font-size="56.5" fill="#007c00" text-anchor="start" >CuO</text>
<text x="257.0" y="597.6" font-family="Liberation Sans" font-size="56.5" fill="#ff0000" text-anchor="start" >ZnO</text>
<text x="515.0" y="606.0" font-family="Liberation Sans" font-size="56.5" fill="#ff0000" text-anchor="start" >Zn</text>
<text x="953.0" y="501.6" font-family="Liberation Sans" font-size="56.5" fill="#007c00" text-anchor="start" >Cu</text>
<text x="1185.0" y="505.0" font-family="Liberation Sans" font-size="56.5" fill="#007c00" text-anchor="start" >Cu</text>
<polygon fill="#000" points="501.3,1170.0 500.7,1170.0 500.7,1148.4 502.8,1148.4 502.8,1020.8 503.8,1018.8 508.0,1018.8 509.0,1021.8 509.0,1090.5 511.7,1090.5 511.7,1170.0 510.5,1170.0"/>
<polygon fill="#000" points="613.0,1170.0 612.4,1170.0 612.4,1114.0 614.5,1114.0 614.5,1102.2 615.5,1100.2 619.7,1100.2 620.7,1103.2 620.7,1152.6 622.8,1152.6 622.8,1170.0 622.2,1170.0"/>
<polygon fill="#000" points="979.3,1170.0 980.8,1142.8 981.8,1140.8 985.3,1140.8 986.3,1143.8 986.3,1157.4 991.9,1157.4 991.9,1170.0 987.8,1170.0"/>
<polygon fill="#000" points="1225.0,1170.0 1226.5,1146.1 1227.5,1144.1 1230.3,1144.1 1231.3,1147.1 1232.8,1170.0"/>
<polygon fill="#000" points="338.0,1338.5 339.5,1334.4 340.5,1332.4 341.0,1332.4 342.0,1335.4 343.5,1338.5"/>
<polygon fill="#000" points="376.0,1338.5 380.0,1336.0 383.0,1333.0 383.5,1327.0 385.0,1326.0 385.0,1183.2 386.0,1182.2 388.5,1182.2 389.2,1184.0 389.2,1242.2 391.4,1242.2 391.4,1326.0 392.0,1331.0 395.0,1334.0 400.0,1337.0 401.0,1338.5"/>
<polygon fill="#000" points="432.0,1338.5 433.5,1336.0 434.6,1320.0 434.6,1277.6 436.0,1277.6 436.5,1271.0 437.6,1269.3 440.3,1269.3 441.2,1272.0 441.2,1312.8 443.4,1312.8 444.5,1322.0 446.0,1334.0 449.0,1337.0 450.0,1338.5"/>
<polygon fill="#000" points="552.5,1338.5 554.0,1336.5 555.0,1334.5 555.0,1334.5 556.0,1337.5 557.5,1338.5"/>
<polygon fill="#000" points="589.5,1338.5 591.0,1326.0 592.0,1324.0 593.0,1324.0 594.0,1327.0 594.0,1330.0 597.0,1330.0 597.0,1338.5 595.5,1338.5"/>
<polygon fill="#000" points="663.5,1338.5 665.0,1335.8 666.0,1333.8 666.0,1333.8 667.0,1336.8 668.5,1338.5"/>
<polygon fill="#000" points="740.5,1338.5 742.0,1331.6 743.0,1329.6 743.0,1329.6 744.0,1332.6 745.5,1338.5"/>
<polygon fill="#000" points="788.0,1338.5 789.5,1329.6 790.5,1327.6 790.5,1327.6 791.5,1330.6 791.5,1332.0 794.0,1332.0 794.0,1338.5 793.0,1338.5"/>
<polygon fill="#000" points="855.0,1338.5 856.5,1332.5 857.5,1330.5 858.0,1330.5 859.0,1333.5 860.5,1338.5"/>
<polygon fill="#000" points="861.5,1338.5 863.0,1332.5 864.0,1330.5 865.0,1330.5 866.0,1333.5 867.5,1338.5"/>
<polygon fill="#000" points="889.0,1338.5 890.5,1331.6 891.5,1329.6 892.0,1329.6 893.0,1332.6 894.5,1338.5"/>
<polygon fill="#000" points="959.5,1338.5 961.0,1337.0 962.0,1335.0 962.0,1335.0 963.0,1338.0 964.5,1338.5"/>
<polygon fill="#000" points="998.5,1338.5 1000.0,1333.7 1001.0,1331.7 1002.0,1331.7 1003.0,1334.7 1004.5,1338.5"/>
<polygon fill="#000" points="1112.5,1338.5 1114.0,1338.0 1115.0,1336.0 1115.0,1336.0 1116.0,1339.0 1117.5,1338.5"/>
<polygon fill="#000" points="1123.0,1338.5 1124.5,1338.0 1125.5,1336.0 1125.5,1336.0 1126.5,1339.0 1128.0,1338.5"/>
<polygon fill="#000" points="1131.0,1338.5 1132.5,1338.0 1133.5,1336.0 1133.5,1336.0 1134.5,1339.0 1136.0,1338.5"/>
<polygon fill="#000" points="292.8,1503.0 294.3,1490.0 295.3,1488.0 297.0,1488.0 298.0,1491.0 299.5,1503.0"/>
<polygon fill="#000" points="398.0,1503.0 397.3,1503.0 397.3,1469.0 399.5,1469.0 399.5,1361.7 400.5,1359.7 403.3,1359.7 404.3,1362.7 404.3,1425.2 408.0,1425.2 408.0,1503.0 405.8,1503.0"/>
<polygon fill="#000" points="488.5,1503.0 490.0,1452.3 491.0,1450.3 494.0,1450.3 495.0,1453.3 495.0,1457.4 497.7,1457.4 497.7,1503.0 496.5,1503.0"/>
<polygon fill="#000" points="647.5,1503.0 649.0,1500.3 650.0,1498.3 650.0,1498.3 651.0,1501.3 652.5,1503.0"/>
<polygon fill="#000" points="783.0,1503.0 784.5,1466.3 785.5,1464.3 789.0,1464.3 790.0,1467.3 790.0,1484.0 793.0,1484.0 793.0,1503.0 791.5,1503.0"/>
<polygon fill="#000" points="913.5,1503.0 915.0,1501.0 916.0,1499.0 915.5,1499.0 916.5,1502.0 918.0,1503.0"/>
<polygon fill="#000" points="974.0,1503.0 975.5,1481.7 976.5,1479.7 979.0,1479.7 980.0,1482.7 980.0,1490.7 983.0,1490.7 983.0,1503.0 981.5,1503.0"/>
<polygon fill="#000" points="1032.5,1503.0 1034.0,1498.5 1035.0,1496.5 1040.0,1496.5 1041.0,1499.5 1042.5,1503.0"/>
<polygon fill="#000" points="395.5,1672.5 397.0,1632.3 398.0,1630.3 402.5,1630.3 403.5,1633.3 403.5,1636.4 405.0,1636.4 405.0,1672.5 405.0,1672.5"/>
<polygon fill="#000" points="442.5,1672.5 444.0,1660.1 445.0,1658.1 449.0,1658.1 450.0,1661.1 451.5,1672.5"/>
<polygon fill="#000" points="507.0,1672.5 506.4,1672.5 506.4,1656.9 508.5,1656.9 508.5,1539.4 509.5,1537.4 512.5,1537.4 513.5,1540.4 513.5,1597.8 516.8,1597.8 516.8,1672.5 515.0,1672.5"/>
<polygon fill="#000" points="679.0,1672.5 680.5,1645.6 681.5,1643.6 685.5,1643.6 686.5,1646.6 686.5,1650.0 688.6,1650.0 688.6,1672.5 688.0,1672.5"/>
<polygon fill="#000" points="919.5,1672.5 921.0,1672.5 921.0,1641.5 923.5,1641.5 923.5,1539.0 924.5,1537.2 927.3,1537.2 928.3,1540.0 928.3,1604.0 932.2,1604.0 932.2,1539.0 933.2,1537.2 936.8,1537.2 937.8,1540.0 937.8,1554.6 939.5,1554.6 939.5,1604.3 942.1,1604.3 942.1,1672.5 943.5,1672.5"/>
<polygon fill="#000" points="1026.5,1672.5 1028.0,1667.0 1029.0,1665.0 1030.0,1665.0 1031.0,1668.0 1032.5,1672.5"/>
<polygon fill="#000" points="1109.5,1672.5 1111.0,1582.7 1112.0,1580.7 1116.0,1580.7 1117.0,1583.7 1117.0,1625.4 1122.0,1625.4 1122.0,1672.5 1118.5,1672.5"/>
<polygon fill="#000" points="1139.5,1672.5 1141.0,1667.0 1142.0,1665.0 1143.0,1665.0 1144.0,1668.0 1145.5,1672.5"/>
<polygon fill="#000" points="1180.5,1672.5 1182.0,1621.2 1183.0,1619.2 1187.0,1619.2 1188.0,1622.2 1188.0,1644.0 1192.9,1644.0 1192.9,1672.5 1189.5,1672.5"/>
<polygon fill="#000" points="1227.5,1672.5 1229.0,1667.0 1230.0,1665.0 1232.5,1665.0 1233.5,1668.0 1235.0,1672.5"/>
<polygon fill="#000" points="324.5,1845.0 326.0,1774.6 327.0,1772.6 332.0,1772.6 333.0,1775.6 333.0,1826.3 336.4,1826.3 336.4,1845.0 334.5,1845.0"/>
<polygon fill="#000" points="365.5,1845.0 367.0,1795.8 368.0,1793.8 371.5,1793.8 372.5,1796.8 372.5,1799.0 374.0,1799.0 374.0,1845.0 374.0,1845.0"/>
<polygon fill="#000" points="394.5,1845.0 394.0,1845.0 394.0,1794.4 396.0,1794.4 396.0,1784.9 397.0,1782.9 401.5,1782.9 402.5,1785.9 402.5,1808.0 405.6,1808.0 405.6,1845.0 404.0,1845.0"/>
<polygon fill="#000" points="570.5,1845.0 572.0,1831.3 573.0,1829.3 577.5,1829.3 578.5,1832.3 580.0,1845.0"/>
<polygon fill="#000" points="710.0,1845.0 710.5,1845.0 710.5,1809.6 711.5,1809.6 711.5,1801.0 712.5,1799.0 718.0,1799.0 719.0,1802.0 719.0,1825.0 721.0,1825.0 721.0,1845.0 720.5,1845.0"/>
<polygon fill="#000" points="807.0,1845.0 808.5,1831.5 809.5,1829.5 816.5,1829.5 817.5,1832.5 819.0,1845.0"/>
<polygon fill="#000" points="862.5,1845.0 864.0,1839.4 865.0,1837.4 871.0,1837.4 872.0,1840.4 873.5,1845.0"/>
<polygon fill="#000" points="887.0,1845.0 888.5,1826.8 889.5,1824.8 896.0,1824.8 897.0,1827.8 898.5,1845.0"/>
<polygon fill="#000" points="903.5,1845.0 905.0,1842.0 906.0,1840.0 916.0,1840.0 917.0,1843.0 918.5,1845.0"/>
<polygon fill="#000" points="957.5,1845.0 959.0,1842.0 960.0,1840.0 968.0,1840.0 969.0,1843.0 970.5,1845.0"/>
<polygon fill="#000" points="1025.5,1845.0 1027.0,1842.0 1028.0,1840.0 1036.5,1840.0 1037.5,1843.0 1039.0,1845.0"/>
<polygon fill="#000" points="1097.5,1845.0 1099.0,1842.0 1100.0,1840.0 1101.0,1840.0 1102.0,1843.0 1103.5,1845.0"/>
<polygon fill="#000" points="1222.5,1845.0 1224.0,1835.0 1225.0,1833.0 1229.5,1833.0 1230.5,1836.0 1232.0,1845.0"/>
<polygon fill="#fff" points="385.6,1338.0 385.9,1330.0 387.0,1327.8 388.4,1327.8 389.5,1330.0 389.8,1338.0"/>
<polygon fill="#fff" points="436.6,1338.0 437.0,1324.0 438.5,1320.5 440.5,1320.5 442.3,1324.0 442.8,1338.0"/>
<line x1="506.0" y1="1166.0" x2="506.0" y2="1173.0" stroke="#fff" stroke-width="2.0"/>
<line x1="402.0" y1="1496.0" x2="402.0" y2="1502.0" stroke="#fff" stroke-width="2.0"/>
<line x1="511.0" y1="1666.0" x2="511.0" y2="1671.0" stroke="#fff" stroke-width="2.0"/>
<line x1="929.5" y1="1656.0" x2="929.5" y2="1670.5" stroke="#fff" stroke-width="3.0"/>
<line x1="330.0" y1="1840.0" x2="330.0" y2="1844.0" stroke="#fff" stroke-width="2.0"/>
<rect x="112.0" y="1010.9" width="1295.0" height="4.8" fill="#000"/>
<rect x="114.0" y="1168.5" width="1117.0" height="7.5" fill="#000"/>
<rect x="1231.0" y="1172.0" width="175.0" height="4.0" fill="#000"/>
<rect x="114.0" y="1337.7" width="1292.0" height="3.0" fill="#000"/>
<rect x="114.0" y="1502.1" width="1120.0" height="4.8" fill="#000"/>
<rect x="1234.0" y="1503.6" width="172.0" height="3.6" fill="#000"/>
<rect x="114.0" y="1671.1" width="1119.0" height="4.8" fill="#000"/>
<rect x="1233.0" y="1672.7" width="173.0" height="3.8" fill="#000"/>
<rect x="112.0" y="1843.3" width="1119.3" height="5.0" fill="#000"/>
<rect x="1231.3" y="1845.2" width="175.2" height="3.4" fill="#000"/>
<rect x="112.2" y="1011.0" width="4.0" height="837.3" fill="#000"/>
<rect x="1403.6" y="1011.0" width="3.0" height="842.0" fill="#000"/>
<rect x="145.1" y="1846.0" width="3.8" height="10.5" fill="#000"/>
<rect x="455.6" y="1846.0" width="3.8" height="10.5" fill="#000"/>
<rect x="764.6" y="1846.0" width="3.8" height="10.5" fill="#000"/>
<rect x="1075.6" y="1846.0" width="3.8" height="10.5" fill="#000"/>
<rect x="1386.3" y="1846.0" width="3.8" height="10.5" fill="#000"/>
<text x="1259.5" y="1086.0" font-family="Liberation Sans" font-size="56.5" fill="#000" text-anchor="start" >Cu</text>
<text x="1249.5" y="1255.6" font-family="Liberation Sans" font-size="56.5" fill="#000" text-anchor="start" >CuO</text>
<text x="1223" y="1399.7" font-family="Liberation Sans" font-size="56.5" fill="#000">Cu<tspan font-size="37" dy="19">2</tspan><tspan dy="-19">O</tspan></text>
<text x="1271.5" y="1566.6" font-family="Liberation Sans" font-size="56.5" fill="#000" text-anchor="start" >Zn</text>
<text x="1246.5" y="1741.4" font-family="Liberation Sans" font-size="56.5" fill="#000" text-anchor="start" >ZnO</text>
<text x="147.0" y="1932.8" font-family="Liberation Sans" font-size="58.0" fill="#000" text-anchor="middle" >20</text>
<text x="457.5" y="1932.8" font-family="Liberation Sans" font-size="58.0" fill="#000" text-anchor="middle" >40</text>
<text x="766.5" y="1932.8" font-family="Liberation Sans" font-size="58.0" fill="#000" text-anchor="middle" >60</text>
<text x="1077.5" y="1932.8" font-family="Liberation Sans" font-size="58.0" fill="#000" text-anchor="middle" >80</text>
<text x="1389.0" y="1932.8" font-family="Liberation Sans" font-size="58.0" fill="#000" text-anchor="middle" >100</text>
<text x="722" y="2063.7" font-family="Liberation Sans" font-size="68" font-weight="bold" fill="#000">2</text>
<text transform="translate(760,2063.5) scale(1.2,0.955)" x="0" y="0" font-family="Liberation Serif" font-size="70" fill="#000" stroke="#000" stroke-width="1.1">&#952;</text>
<text transform="translate(66.6,1287) rotate(-90)" x="0" y="0" font-family="Liberation Sans" font-size="69.5" font-weight="bold" fill="#000">Intensity, a.u.</text>
</svg></body></html>
